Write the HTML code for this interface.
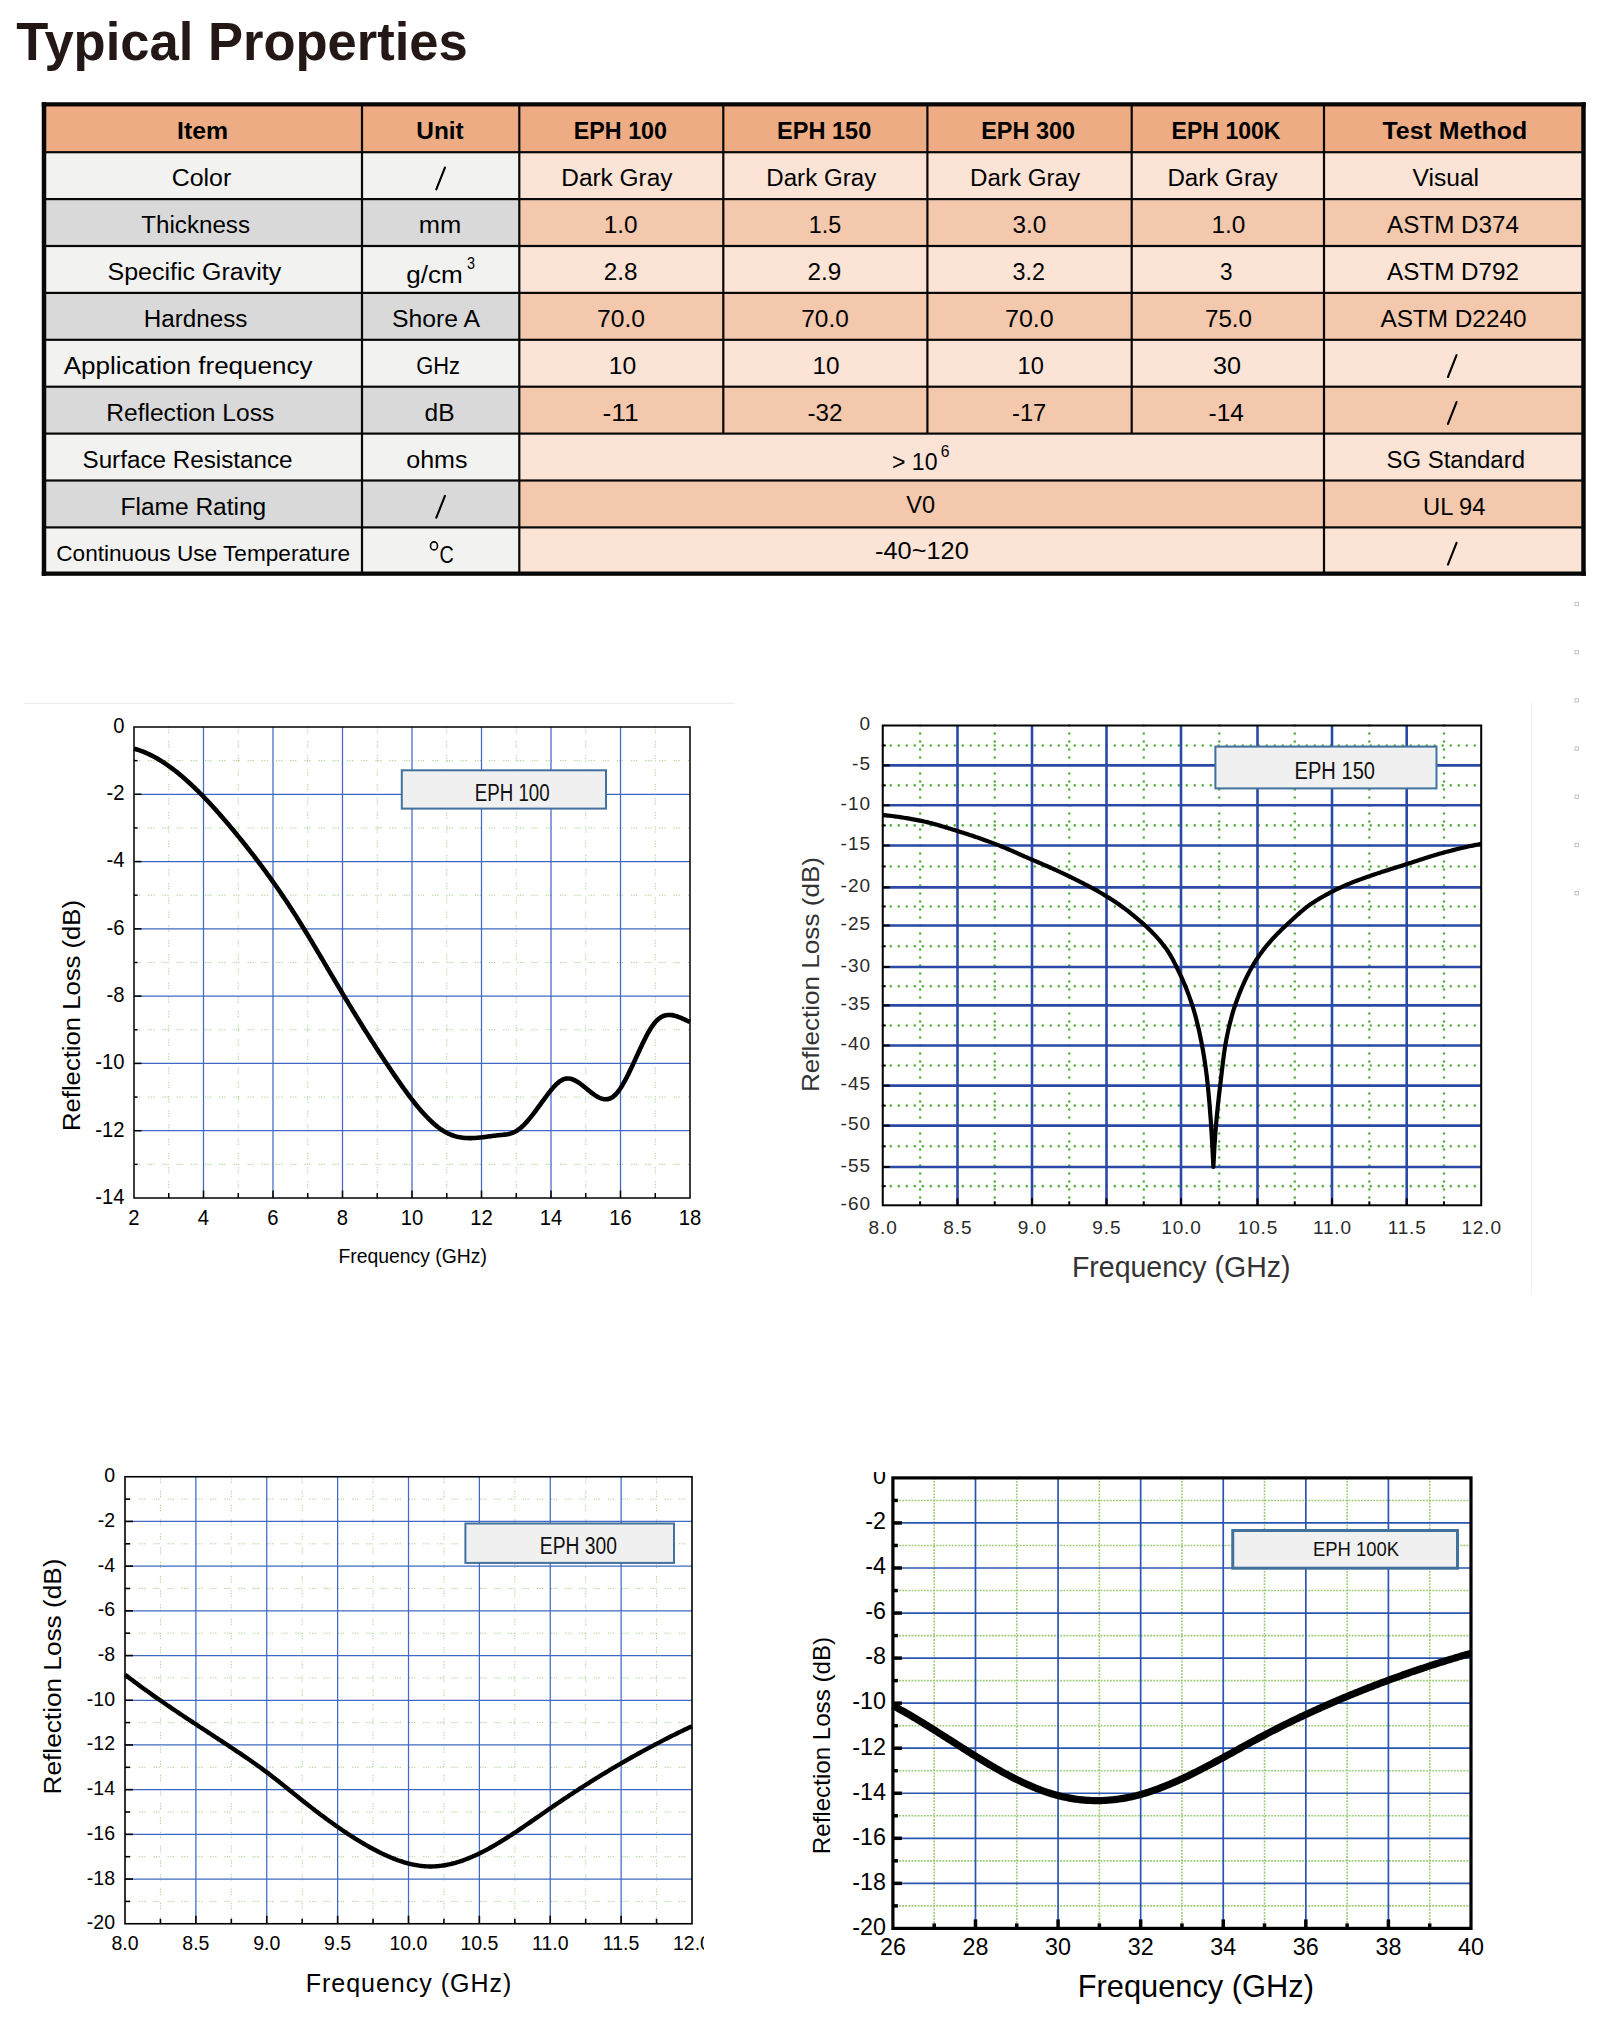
<!DOCTYPE html>
<html><head><meta charset="utf-8"><title>Typical Properties</title><style>html,body{margin:0;padding:0;background:#fff;font-family:"Liberation Sans",sans-serif;}svg{display:block;}</style></head><body>
<svg width="1600" height="2043" viewBox="0 0 1600 2043" style="font-family:&quot;Liberation Sans&quot;,sans-serif">
<rect x="0" y="0" width="1600" height="2043" fill="#fff"/>
<text x="16.20" y="60.00" font-size="54.50" font-weight="bold" fill="#231815" textLength="451.59" lengthAdjust="spacingAndGlyphs">Typical Properties</text>
<rect x="44" y="104.25" width="1539.5" height="47.94999999999999" fill="#EDAC84"/>
<rect x="44" y="152.20" width="475.30" height="46.90" fill="#F2F2F1"/>
<rect x="519.3" y="152.20" width="1064.20" height="46.90" fill="#FBE3D5"/>
<rect x="44" y="199.10" width="475.30" height="46.90" fill="#D9D9D9"/>
<rect x="519.3" y="199.10" width="1064.20" height="46.90" fill="#F3C8AD"/>
<rect x="44" y="246.00" width="475.30" height="46.90" fill="#F2F2F1"/>
<rect x="519.3" y="246.00" width="1064.20" height="46.90" fill="#FBE3D5"/>
<rect x="44" y="292.90" width="475.30" height="46.90" fill="#D9D9D9"/>
<rect x="519.3" y="292.90" width="1064.20" height="46.90" fill="#F3C8AD"/>
<rect x="44" y="339.80" width="475.30" height="46.90" fill="#F2F2F1"/>
<rect x="519.3" y="339.80" width="1064.20" height="46.90" fill="#FBE3D5"/>
<rect x="44" y="386.70" width="475.30" height="46.90" fill="#D9D9D9"/>
<rect x="519.3" y="386.70" width="1064.20" height="46.90" fill="#F3C8AD"/>
<rect x="44" y="433.60" width="475.30" height="46.90" fill="#F2F2F1"/>
<rect x="519.3" y="433.60" width="1064.20" height="46.90" fill="#FBE3D5"/>
<rect x="44" y="480.50" width="475.30" height="46.90" fill="#D9D9D9"/>
<rect x="519.3" y="480.50" width="1064.20" height="46.90" fill="#F3C8AD"/>
<rect x="44" y="527.40" width="475.30" height="46.20" fill="#F2F2F1"/>
<rect x="519.3" y="527.40" width="1064.20" height="46.20" fill="#FBE3D5"/>
<rect x="44" y="151.10" width="1539.5" height="2.2" fill="#080808"/>
<rect x="44" y="198.00" width="1539.5" height="2.2" fill="#080808"/>
<rect x="44" y="244.90" width="1539.5" height="2.2" fill="#080808"/>
<rect x="44" y="291.80" width="1539.5" height="2.2" fill="#080808"/>
<rect x="44" y="338.70" width="1539.5" height="2.2" fill="#080808"/>
<rect x="44" y="385.60" width="1539.5" height="2.2" fill="#080808"/>
<rect x="44" y="432.50" width="1539.5" height="2.2" fill="#080808"/>
<rect x="44" y="479.40" width="1539.5" height="2.2" fill="#080808"/>
<rect x="44" y="526.30" width="1539.5" height="2.2" fill="#080808"/>
<rect x="360.90" y="104.25" width="2.2" height="469.35" fill="#080808"/>
<rect x="518.20" y="104.25" width="2.2" height="469.35" fill="#080808"/>
<rect x="1322.90" y="104.25" width="2.2" height="469.35" fill="#080808"/>
<rect x="722.20" y="104.25" width="2.2" height="329.35" fill="#080808"/>
<rect x="926.30" y="104.25" width="2.2" height="329.35" fill="#080808"/>
<rect x="1130.60" y="104.25" width="2.2" height="329.35" fill="#080808"/>
<rect x="41.75" y="102.25" width="1544.0" height="4.2" fill="#080808"/>
<rect x="41.75" y="571.5" width="1544.0" height="4.3" fill="#080808"/>
<rect x="41.75" y="102.25" width="4.5" height="473.54999999999995" fill="#080808"/>
<rect x="1581.25" y="102.25" width="4.5" height="473.54999999999995" fill="#080808"/>
<text x="177.00" y="139.30" font-size="24.70" font-weight="bold" fill="#000" textLength="51.00" lengthAdjust="spacingAndGlyphs">Item</text>
<text x="416.25" y="139.30" font-size="24.70" font-weight="bold" fill="#000" textLength="47.50" lengthAdjust="spacingAndGlyphs">Unit</text>
<text x="573.75" y="139.30" font-size="24.70" font-weight="bold" fill="#000" textLength="93.26" lengthAdjust="spacingAndGlyphs">EPH 100</text>
<text x="777.00" y="139.30" font-size="24.70" font-weight="bold" fill="#000" textLength="94.26" lengthAdjust="spacingAndGlyphs">EPH 150</text>
<text x="981.25" y="139.30" font-size="24.70" font-weight="bold" fill="#000" textLength="93.76" lengthAdjust="spacingAndGlyphs">EPH 300</text>
<text x="1171.60" y="139.30" font-size="24.70" font-weight="bold" fill="#000" textLength="108.89" lengthAdjust="spacingAndGlyphs">EPH 100K</text>
<text x="1382.50" y="139.30" font-size="24.70" font-weight="bold" fill="#000" textLength="144.59" lengthAdjust="spacingAndGlyphs">Test Method</text>
<text x="171.75" y="186.20" font-size="24.70" fill="#000" textLength="59.49" lengthAdjust="spacingAndGlyphs">Color</text>
<line x1="436.32" y1="189.40" x2="444.93" y2="167.60" stroke="#000" stroke-width="2.1" stroke-linecap="round"/>
<text x="561.25" y="186.20" font-size="24.70" fill="#000" textLength="111.25" lengthAdjust="spacingAndGlyphs">Dark Gray</text>
<text x="766.25" y="186.20" font-size="24.70" fill="#000" textLength="110.00" lengthAdjust="spacingAndGlyphs">Dark Gray</text>
<text x="970.00" y="186.20" font-size="24.70" fill="#000" textLength="110.00" lengthAdjust="spacingAndGlyphs">Dark Gray</text>
<text x="1167.40" y="186.20" font-size="24.70" fill="#000" textLength="110.10" lengthAdjust="spacingAndGlyphs">Dark Gray</text>
<text x="1412.50" y="186.20" font-size="24.70" fill="#000" textLength="66.59" lengthAdjust="spacingAndGlyphs">Visual</text>
<text x="141.25" y="233.10" font-size="24.70" fill="#000" textLength="108.76" lengthAdjust="spacingAndGlyphs">Thickness</text>
<text x="418.75" y="233.10" font-size="24.70" fill="#000" textLength="42.50" lengthAdjust="spacingAndGlyphs">mm</text>
<text x="603.75" y="233.10" font-size="24.70" fill="#000" textLength="33.75" lengthAdjust="spacingAndGlyphs">1.0</text>
<text x="808.75" y="233.10" font-size="24.70" fill="#000" textLength="32.50" lengthAdjust="spacingAndGlyphs">1.5</text>
<text x="1012.50" y="233.10" font-size="24.70" fill="#000" textLength="33.75" lengthAdjust="spacingAndGlyphs">3.0</text>
<text x="1211.50" y="233.10" font-size="24.70" fill="#000" textLength="33.90" lengthAdjust="spacingAndGlyphs">1.0</text>
<text x="1387.00" y="233.10" font-size="24.70" fill="#000" textLength="132.01" lengthAdjust="spacingAndGlyphs">ASTM D374</text>
<text x="107.50" y="280.00" font-size="24.70" fill="#000" textLength="173.76" lengthAdjust="spacingAndGlyphs">Specific Gravity</text>
<text x="406.25" y="282.75" font-size="24.70" fill="#000" textLength="56.50" lengthAdjust="spacingAndGlyphs">g/cm</text>
<text x="603.75" y="280.00" font-size="24.70" fill="#000" textLength="33.75" lengthAdjust="spacingAndGlyphs">2.8</text>
<text x="807.50" y="280.00" font-size="24.70" fill="#000" textLength="33.75" lengthAdjust="spacingAndGlyphs">2.9</text>
<text x="1012.50" y="280.00" font-size="24.70" fill="#000" textLength="32.50" lengthAdjust="spacingAndGlyphs">3.2</text>
<text x="1220.00" y="280.00" font-size="24.70" fill="#000" textLength="12.50" lengthAdjust="spacingAndGlyphs">3</text>
<text x="1387.00" y="280.00" font-size="24.70" fill="#000" textLength="132.01" lengthAdjust="spacingAndGlyphs">ASTM D792</text>
<text x="143.75" y="326.90" font-size="24.70" fill="#000" textLength="103.75" lengthAdjust="spacingAndGlyphs">Hardness</text>
<text x="392.00" y="326.90" font-size="24.70" fill="#000" textLength="88.00" lengthAdjust="spacingAndGlyphs">Shore A</text>
<text x="597.00" y="326.90" font-size="24.70" fill="#000" textLength="48.01" lengthAdjust="spacingAndGlyphs">70.0</text>
<text x="801.25" y="326.90" font-size="24.70" fill="#000" textLength="47.51" lengthAdjust="spacingAndGlyphs">70.0</text>
<text x="1005.00" y="326.90" font-size="24.70" fill="#000" textLength="48.76" lengthAdjust="spacingAndGlyphs">70.0</text>
<text x="1205.00" y="326.90" font-size="24.70" fill="#000" textLength="47.01" lengthAdjust="spacingAndGlyphs">75.0</text>
<text x="1380.40" y="326.90" font-size="24.70" fill="#000" textLength="146.11" lengthAdjust="spacingAndGlyphs">ASTM D2240</text>
<text x="63.75" y="373.80" font-size="24.70" fill="#000" textLength="248.74" lengthAdjust="spacingAndGlyphs">Application frequency</text>
<text x="416.25" y="373.80" font-size="24.70" fill="#000" textLength="43.75" lengthAdjust="spacingAndGlyphs">GHz</text>
<text x="608.75" y="373.80" font-size="24.70" fill="#000" textLength="27.51" lengthAdjust="spacingAndGlyphs">10</text>
<text x="812.50" y="373.80" font-size="24.70" fill="#000" textLength="27.01" lengthAdjust="spacingAndGlyphs">10</text>
<text x="1017.50" y="373.80" font-size="24.70" fill="#000" textLength="26.26" lengthAdjust="spacingAndGlyphs">10</text>
<text x="1213.00" y="373.80" font-size="24.70" fill="#000" textLength="28.01" lengthAdjust="spacingAndGlyphs">30</text>
<line x1="1447.95" y1="377.00" x2="1456.55" y2="355.20" stroke="#000" stroke-width="2.1" stroke-linecap="round"/>
<text x="106.25" y="420.70" font-size="24.70" fill="#000" textLength="168.00" lengthAdjust="spacingAndGlyphs">Reflection Loss</text>
<text x="424.50" y="420.70" font-size="24.70" fill="#000" textLength="30.00" lengthAdjust="spacingAndGlyphs">dB</text>
<text x="602.50" y="420.70" font-size="24.70" fill="#000" textLength="36.25" lengthAdjust="spacingAndGlyphs">-11</text>
<text x="807.50" y="420.70" font-size="24.70" fill="#000" textLength="35.01" lengthAdjust="spacingAndGlyphs">-32</text>
<text x="1012.00" y="420.70" font-size="24.70" fill="#000" textLength="34.26" lengthAdjust="spacingAndGlyphs">-17</text>
<text x="1208.50" y="420.70" font-size="24.70" fill="#000" textLength="35.41" lengthAdjust="spacingAndGlyphs">-14</text>
<line x1="1447.95" y1="423.90" x2="1456.55" y2="402.10" stroke="#000" stroke-width="2.1" stroke-linecap="round"/>
<text x="82.50" y="467.60" font-size="24.70" fill="#000" textLength="210.00" lengthAdjust="spacingAndGlyphs">Surface Resistance</text>
<text x="406.25" y="467.60" font-size="24.70" fill="#000" textLength="61.26" lengthAdjust="spacingAndGlyphs">ohms</text>
<text x="892.00" y="469.80" font-size="24.70" fill="#000" textLength="45.50" lengthAdjust="spacingAndGlyphs">&gt; 10</text>
<text x="1386.40" y="467.60" font-size="24.70" fill="#000" textLength="138.61" lengthAdjust="spacingAndGlyphs">SG Standard</text>
<text x="120.50" y="514.50" font-size="24.70" fill="#000" textLength="145.75" lengthAdjust="spacingAndGlyphs">Flame Rating</text>
<line x1="436.32" y1="517.70" x2="444.93" y2="495.90" stroke="#000" stroke-width="2.1" stroke-linecap="round"/>
<text x="906.25" y="513.00" font-size="24.70" fill="#000" textLength="28.75" lengthAdjust="spacingAndGlyphs">V0</text>
<text x="1423.00" y="514.50" font-size="24.70" fill="#000" textLength="62.41" lengthAdjust="spacingAndGlyphs">UL 94</text>
<text x="439.50" y="563.20" font-size="24.70" fill="#000" textLength="14.25" lengthAdjust="spacingAndGlyphs">C</text>
<text x="875.00" y="559.40" font-size="24.70" fill="#000" textLength="93.74" lengthAdjust="spacingAndGlyphs">-40~120</text>
<line x1="1447.95" y1="564.60" x2="1456.55" y2="542.80" stroke="#000" stroke-width="2.1" stroke-linecap="round"/>
<text x="467.00" y="268.50" font-size="17.00" fill="#000" textLength="8.00" lengthAdjust="spacingAndGlyphs">3</text>
<text x="940.75" y="456.75" font-size="17.00" fill="#000" textLength="8.75" lengthAdjust="spacingAndGlyphs">6</text>
<text x="56.25" y="561.00" font-size="22.50" fill="#000" textLength="293.75" lengthAdjust="spacingAndGlyphs">Continuous Use Temperature</text>
<ellipse cx="434" cy="545.9" rx="3.5" ry="4.0" fill="none" stroke="#000" stroke-width="1.6"/>
<line x1="168.75" y1="727.00" x2="168.75" y2="1198.00" stroke="#9CCB7E" stroke-width="1" stroke-dasharray="1.2 1.3 1.2 1.3 1.2 8" opacity="0.9"/>
<line x1="238.25" y1="727.00" x2="238.25" y2="1198.00" stroke="#9CCB7E" stroke-width="1" stroke-dasharray="1.2 1.3 1.2 1.3 1.2 8" opacity="0.9"/>
<line x1="307.75" y1="727.00" x2="307.75" y2="1198.00" stroke="#9CCB7E" stroke-width="1" stroke-dasharray="1.2 1.3 1.2 1.3 1.2 8" opacity="0.9"/>
<line x1="377.25" y1="727.00" x2="377.25" y2="1198.00" stroke="#9CCB7E" stroke-width="1" stroke-dasharray="1.2 1.3 1.2 1.3 1.2 8" opacity="0.9"/>
<line x1="446.75" y1="727.00" x2="446.75" y2="1198.00" stroke="#9CCB7E" stroke-width="1" stroke-dasharray="1.2 1.3 1.2 1.3 1.2 8" opacity="0.9"/>
<line x1="516.25" y1="727.00" x2="516.25" y2="1198.00" stroke="#9CCB7E" stroke-width="1" stroke-dasharray="1.2 1.3 1.2 1.3 1.2 8" opacity="0.9"/>
<line x1="585.75" y1="727.00" x2="585.75" y2="1198.00" stroke="#9CCB7E" stroke-width="1" stroke-dasharray="1.2 1.3 1.2 1.3 1.2 8" opacity="0.9"/>
<line x1="655.25" y1="727.00" x2="655.25" y2="1198.00" stroke="#9CCB7E" stroke-width="1" stroke-dasharray="1.2 1.3 1.2 1.3 1.2 8" opacity="0.9"/>
<line x1="134.00" y1="760.64" x2="690.00" y2="760.64" stroke="#9CCB7E" stroke-width="1" stroke-dasharray="1.2 1.3 1.2 1.3 1.2 8" opacity="0.9"/>
<line x1="134.00" y1="827.93" x2="690.00" y2="827.93" stroke="#9CCB7E" stroke-width="1" stroke-dasharray="1.2 1.3 1.2 1.3 1.2 8" opacity="0.9"/>
<line x1="134.00" y1="895.21" x2="690.00" y2="895.21" stroke="#9CCB7E" stroke-width="1" stroke-dasharray="1.2 1.3 1.2 1.3 1.2 8" opacity="0.9"/>
<line x1="134.00" y1="962.50" x2="690.00" y2="962.50" stroke="#9CCB7E" stroke-width="1" stroke-dasharray="1.2 1.3 1.2 1.3 1.2 8" opacity="0.9"/>
<line x1="134.00" y1="1029.79" x2="690.00" y2="1029.79" stroke="#9CCB7E" stroke-width="1" stroke-dasharray="1.2 1.3 1.2 1.3 1.2 8" opacity="0.9"/>
<line x1="134.00" y1="1097.07" x2="690.00" y2="1097.07" stroke="#9CCB7E" stroke-width="1" stroke-dasharray="1.2 1.3 1.2 1.3 1.2 8" opacity="0.9"/>
<line x1="134.00" y1="1164.36" x2="690.00" y2="1164.36" stroke="#9CCB7E" stroke-width="1" stroke-dasharray="1.2 1.3 1.2 1.3 1.2 8" opacity="0.9"/>
<line x1="203.50" y1="727.00" x2="203.50" y2="1198.00" stroke="#4068C4" stroke-width="1.25"/>
<line x1="273.00" y1="727.00" x2="273.00" y2="1198.00" stroke="#4068C4" stroke-width="1.25"/>
<line x1="342.50" y1="727.00" x2="342.50" y2="1198.00" stroke="#4068C4" stroke-width="1.25"/>
<line x1="412.00" y1="727.00" x2="412.00" y2="1198.00" stroke="#4068C4" stroke-width="1.25"/>
<line x1="481.50" y1="727.00" x2="481.50" y2="1198.00" stroke="#4068C4" stroke-width="1.25"/>
<line x1="551.00" y1="727.00" x2="551.00" y2="1198.00" stroke="#4068C4" stroke-width="1.25"/>
<line x1="620.50" y1="727.00" x2="620.50" y2="1198.00" stroke="#4068C4" stroke-width="1.25"/>
<line x1="134.00" y1="794.29" x2="690.00" y2="794.29" stroke="#4068C4" stroke-width="1.25"/>
<line x1="134.00" y1="861.57" x2="690.00" y2="861.57" stroke="#4068C4" stroke-width="1.25"/>
<line x1="134.00" y1="928.86" x2="690.00" y2="928.86" stroke="#4068C4" stroke-width="1.25"/>
<line x1="134.00" y1="996.14" x2="690.00" y2="996.14" stroke="#4068C4" stroke-width="1.25"/>
<line x1="134.00" y1="1063.43" x2="690.00" y2="1063.43" stroke="#4068C4" stroke-width="1.25"/>
<line x1="134.00" y1="1130.71" x2="690.00" y2="1130.71" stroke="#4068C4" stroke-width="1.25"/>
<rect x="401.80" y="770.30" width="204.20" height="38.30" fill="#F0F0F0" stroke="#41719C" stroke-width="2"/>
<text x="474.80" y="801.00" font-size="23.30" fill="#111" textLength="74.81" lengthAdjust="spacingAndGlyphs">EPH 100</text>
<path d="M134.00,748.65 L135.39,749.04 L136.79,749.45 L138.18,749.89 L139.57,750.36 L140.97,750.86 L142.36,751.38 L143.75,751.93 L145.15,752.50 L146.54,753.11 L147.93,753.74 L149.33,754.39 L150.72,755.07 L152.12,755.77 L153.51,756.50 L154.90,757.26 L156.30,758.03 L157.69,758.84 L159.08,759.66 L160.48,760.51 L161.87,761.38 L163.26,762.28 L164.66,763.19 L166.05,764.13 L167.44,765.09 L168.84,766.08 L170.23,767.08 L171.62,768.11 L173.02,769.15 L174.41,770.22 L175.80,771.31 L177.20,772.41 L178.59,773.54 L179.98,774.69 L181.38,775.85 L182.77,777.04 L184.17,778.24 L185.56,779.46 L186.95,780.70 L188.35,781.96 L189.74,783.23 L191.13,784.52 L192.53,785.83 L193.92,787.15 L195.31,788.50 L196.71,789.85 L198.10,791.23 L199.49,792.61 L200.89,794.02 L202.28,795.44 L203.67,796.87 L205.07,798.32 L206.46,799.78 L207.85,801.25 L209.25,802.74 L210.64,804.24 L212.04,805.76 L213.43,807.29 L214.82,808.83 L216.22,810.38 L217.61,811.94 L219.00,813.52 L220.40,815.10 L221.79,816.70 L223.18,818.31 L224.58,819.93 L225.97,821.56 L227.36,823.20 L228.76,824.84 L230.15,826.50 L231.54,828.17 L232.94,829.84 L234.33,831.53 L235.72,833.22 L237.12,834.92 L238.51,836.62 L239.90,838.34 L241.30,840.06 L242.69,841.79 L244.09,843.53 L245.48,845.28 L246.87,847.03 L248.27,848.79 L249.66,850.57 L251.05,852.35 L252.45,854.14 L253.84,855.94 L255.23,857.75 L256.63,859.57 L258.02,861.40 L259.41,863.25 L260.81,865.10 L262.20,866.96 L263.59,868.84 L264.99,870.72 L266.38,872.62 L267.77,874.53 L269.17,876.45 L270.56,878.39 L271.95,880.33 L273.35,882.29 L274.74,884.27 L276.14,886.25 L277.53,888.25 L278.92,890.26 L280.32,892.29 L281.71,894.33 L283.10,896.39 L284.50,898.46 L285.89,900.54 L287.28,902.64 L288.68,904.76 L290.07,906.89 L291.46,909.03 L292.86,911.20 L294.25,913.37 L295.64,915.56 L297.04,917.77 L298.43,919.98 L299.82,922.21 L301.22,924.45 L302.61,926.71 L304.01,928.97 L305.40,931.24 L306.79,933.53 L308.19,935.82 L309.58,938.12 L310.97,940.43 L312.37,942.74 L313.76,945.06 L315.15,947.39 L316.55,949.72 L317.94,952.06 L319.33,954.40 L320.73,956.75 L322.12,959.10 L323.51,961.45 L324.91,963.81 L326.30,966.16 L327.69,968.52 L329.09,970.87 L330.48,973.23 L331.87,975.59 L333.27,977.94 L334.66,980.29 L336.06,982.64 L337.45,984.99 L338.84,987.33 L340.24,989.67 L341.63,992.00 L343.02,994.33 L344.42,996.65 L345.81,998.96 L347.20,1001.27 L348.60,1003.58 L349.99,1005.87 L351.38,1008.16 L352.78,1010.45 L354.17,1012.72 L355.56,1014.99 L356.96,1017.26 L358.35,1019.51 L359.74,1021.76 L361.14,1024.00 L362.53,1026.24 L363.92,1028.46 L365.32,1030.68 L366.71,1032.90 L368.11,1035.10 L369.50,1037.30 L370.89,1039.49 L372.29,1041.67 L373.68,1043.84 L375.07,1046.00 L376.47,1048.16 L377.86,1050.30 L379.25,1052.44 L380.65,1054.57 L382.04,1056.69 L383.43,1058.80 L384.83,1060.91 L386.22,1063.00 L387.61,1065.09 L389.01,1067.16 L390.40,1069.23 L391.79,1071.28 L393.19,1073.33 L394.58,1075.36 L395.97,1077.39 L397.37,1079.41 L398.76,1081.41 L400.16,1083.40 L401.55,1085.37 L402.94,1087.33 L404.34,1089.27 L405.73,1091.19 L407.12,1093.09 L408.52,1094.96 L409.91,1096.82 L411.30,1098.65 L412.70,1100.45 L414.09,1102.23 L415.48,1103.97 L416.88,1105.69 L418.27,1107.38 L419.66,1109.03 L421.06,1110.65 L422.45,1112.24 L423.84,1113.79 L425.24,1115.30 L426.63,1116.77 L428.03,1118.20 L429.42,1119.59 L430.81,1120.93 L432.21,1122.23 L433.60,1123.49 L434.99,1124.70 L436.39,1125.85 L437.78,1126.96 L439.17,1128.02 L440.57,1129.03 L441.96,1129.98 L443.35,1130.87 L444.75,1131.71 L446.14,1132.49 L447.53,1133.21 L448.93,1133.88 L450.32,1134.48 L451.71,1135.04 L453.11,1135.53 L454.50,1135.98 L455.89,1136.38 L457.29,1136.73 L458.68,1137.04 L460.08,1137.30 L461.47,1137.53 L462.86,1137.71 L464.26,1137.86 L465.65,1137.97 L467.04,1138.05 L468.44,1138.09 L469.83,1138.11 L471.22,1138.10 L472.62,1138.07 L474.01,1138.01 L475.40,1137.93 L476.80,1137.83 L478.19,1137.71 L479.58,1137.58 L480.98,1137.43 L482.37,1137.28 L483.76,1137.11 L485.16,1136.93 L486.55,1136.75 L487.94,1136.57 L489.34,1136.38 L490.73,1136.20 L492.13,1136.01 L493.52,1135.83 L494.91,1135.66 L496.31,1135.50 L497.70,1135.34 L499.09,1135.20 L500.49,1135.06 L501.88,1134.93 L503.27,1134.79 L504.67,1134.63 L506.06,1134.44 L507.45,1134.20 L508.85,1133.91 L510.24,1133.55 L511.63,1133.12 L513.03,1132.61 L514.42,1131.99 L515.81,1131.27 L517.21,1130.43 L518.60,1129.47 L519.99,1128.40 L521.39,1127.23 L522.78,1125.95 L524.18,1124.59 L525.57,1123.14 L526.96,1121.62 L528.36,1120.03 L529.75,1118.37 L531.14,1116.65 L532.54,1114.89 L533.93,1113.08 L535.32,1111.24 L536.72,1109.36 L538.11,1107.47 L539.50,1105.55 L540.90,1103.63 L542.29,1101.71 L543.68,1099.79 L545.08,1097.88 L546.47,1095.99 L547.86,1094.14 L549.26,1092.33 L550.65,1090.58 L552.05,1088.91 L553.44,1087.31 L554.83,1085.81 L556.23,1084.41 L557.62,1083.13 L559.01,1081.98 L560.41,1080.98 L561.80,1080.12 L563.19,1079.44 L564.59,1078.93 L565.98,1078.61 L567.37,1078.47 L568.77,1078.51 L570.16,1078.70 L571.55,1079.05 L572.95,1079.52 L574.34,1080.12 L575.73,1080.83 L577.13,1081.63 L578.52,1082.52 L579.91,1083.48 L581.31,1084.51 L582.70,1085.58 L584.10,1086.69 L585.49,1087.82 L586.88,1088.96 L588.28,1090.11 L589.67,1091.24 L591.06,1092.34 L592.46,1093.41 L593.85,1094.42 L595.24,1095.38 L596.64,1096.26 L598.03,1097.05 L599.42,1097.75 L600.82,1098.33 L602.21,1098.79 L603.60,1099.11 L605.00,1099.29 L606.39,1099.30 L607.78,1099.15 L609.18,1098.80 L610.57,1098.26 L611.96,1097.51 L613.36,1096.54 L614.75,1095.34 L616.15,1093.91 L617.54,1092.28 L618.93,1090.45 L620.33,1088.44 L621.72,1086.26 L623.11,1083.93 L624.51,1081.47 L625.90,1078.88 L627.29,1076.19 L628.69,1073.40 L630.08,1070.53 L631.47,1067.59 L632.87,1064.61 L634.26,1061.59 L635.65,1058.54 L637.05,1055.50 L638.44,1052.45 L639.83,1049.44 L641.23,1046.46 L642.62,1043.54 L644.02,1040.69 L645.41,1037.92 L646.80,1035.26 L648.20,1032.71 L649.59,1030.30 L650.98,1028.03 L652.38,1025.93 L653.77,1024.01 L655.16,1022.28 L656.56,1020.76 L657.95,1019.43 L659.34,1018.30 L660.74,1017.35 L662.13,1016.58 L663.52,1015.96 L664.92,1015.50 L666.31,1015.18 L667.70,1014.99 L669.10,1014.93 L670.49,1014.97 L671.88,1015.12 L673.28,1015.37 L674.67,1015.69 L676.07,1016.09 L677.46,1016.55 L678.85,1017.07 L680.25,1017.63 L681.64,1018.22 L683.03,1018.84 L684.43,1019.47 L685.82,1020.10 L687.21,1020.73 L688.61,1021.35 L690.00,1021.94" fill="none" stroke="#000" stroke-width="4.6" stroke-linejoin="round" stroke-linecap="butt"/>
<line x1="134.00" y1="794.29" x2="141.50" y2="794.29" stroke="#000" stroke-width="1.5"/>
<line x1="134.00" y1="861.57" x2="141.50" y2="861.57" stroke="#000" stroke-width="1.5"/>
<line x1="134.00" y1="928.86" x2="141.50" y2="928.86" stroke="#000" stroke-width="1.5"/>
<line x1="134.00" y1="996.14" x2="141.50" y2="996.14" stroke="#000" stroke-width="1.5"/>
<line x1="134.00" y1="1063.43" x2="141.50" y2="1063.43" stroke="#000" stroke-width="1.5"/>
<line x1="134.00" y1="1130.71" x2="141.50" y2="1130.71" stroke="#000" stroke-width="1.5"/>
<line x1="134.00" y1="760.64" x2="137.50" y2="760.64" stroke="#000" stroke-width="1.5"/>
<line x1="134.00" y1="827.93" x2="137.50" y2="827.93" stroke="#000" stroke-width="1.5"/>
<line x1="134.00" y1="895.21" x2="137.50" y2="895.21" stroke="#000" stroke-width="1.5"/>
<line x1="134.00" y1="962.50" x2="137.50" y2="962.50" stroke="#000" stroke-width="1.5"/>
<line x1="134.00" y1="1029.79" x2="137.50" y2="1029.79" stroke="#000" stroke-width="1.5"/>
<line x1="134.00" y1="1097.07" x2="137.50" y2="1097.07" stroke="#000" stroke-width="1.5"/>
<line x1="134.00" y1="1164.36" x2="137.50" y2="1164.36" stroke="#000" stroke-width="1.5"/>
<line x1="203.50" y1="1198.00" x2="203.50" y2="1190.50" stroke="#000" stroke-width="1.5"/>
<line x1="273.00" y1="1198.00" x2="273.00" y2="1190.50" stroke="#000" stroke-width="1.5"/>
<line x1="342.50" y1="1198.00" x2="342.50" y2="1190.50" stroke="#000" stroke-width="1.5"/>
<line x1="412.00" y1="1198.00" x2="412.00" y2="1190.50" stroke="#000" stroke-width="1.5"/>
<line x1="481.50" y1="1198.00" x2="481.50" y2="1190.50" stroke="#000" stroke-width="1.5"/>
<line x1="551.00" y1="1198.00" x2="551.00" y2="1190.50" stroke="#000" stroke-width="1.5"/>
<line x1="620.50" y1="1198.00" x2="620.50" y2="1190.50" stroke="#000" stroke-width="1.5"/>
<line x1="168.75" y1="1198.00" x2="168.75" y2="1193.00" stroke="#000" stroke-width="1.5"/>
<line x1="238.25" y1="1198.00" x2="238.25" y2="1193.00" stroke="#000" stroke-width="1.5"/>
<line x1="307.75" y1="1198.00" x2="307.75" y2="1193.00" stroke="#000" stroke-width="1.5"/>
<line x1="377.25" y1="1198.00" x2="377.25" y2="1193.00" stroke="#000" stroke-width="1.5"/>
<line x1="446.75" y1="1198.00" x2="446.75" y2="1193.00" stroke="#000" stroke-width="1.5"/>
<line x1="516.25" y1="1198.00" x2="516.25" y2="1193.00" stroke="#000" stroke-width="1.5"/>
<line x1="585.75" y1="1198.00" x2="585.75" y2="1193.00" stroke="#000" stroke-width="1.5"/>
<line x1="655.25" y1="1198.00" x2="655.25" y2="1193.00" stroke="#000" stroke-width="1.5"/>
<rect x="134.00" y="727.00" width="556.00" height="471.00" fill="none" stroke="#000" stroke-width="1.5"/>
<text x="124.50" y="732.88" font-size="22.00" fill="#000" text-anchor="end" textLength="11.26" lengthAdjust="spacingAndGlyphs">0</text>
<text x="124.50" y="800.16" font-size="22.00" fill="#000" text-anchor="end" textLength="18.00" lengthAdjust="spacingAndGlyphs">-2</text>
<text x="124.50" y="867.45" font-size="22.00" fill="#000" text-anchor="end" textLength="18.00" lengthAdjust="spacingAndGlyphs">-4</text>
<text x="124.50" y="934.73" font-size="22.00" fill="#000" text-anchor="end" textLength="18.00" lengthAdjust="spacingAndGlyphs">-6</text>
<text x="124.50" y="1002.02" font-size="22.00" fill="#000" text-anchor="end" textLength="18.00" lengthAdjust="spacingAndGlyphs">-8</text>
<text x="124.50" y="1069.30" font-size="22.00" fill="#000" text-anchor="end" textLength="29.25" lengthAdjust="spacingAndGlyphs">-10</text>
<text x="124.50" y="1136.59" font-size="22.00" fill="#000" text-anchor="end" textLength="29.25" lengthAdjust="spacingAndGlyphs">-12</text>
<text x="124.50" y="1203.88" font-size="22.00" fill="#000" text-anchor="end" textLength="29.25" lengthAdjust="spacingAndGlyphs">-14</text>
<text x="134.00" y="1225.00" font-size="22.00" fill="#000" text-anchor="middle" textLength="11.26" lengthAdjust="spacingAndGlyphs">2</text>
<text x="203.50" y="1225.00" font-size="22.00" fill="#000" text-anchor="middle" textLength="11.26" lengthAdjust="spacingAndGlyphs">4</text>
<text x="273.00" y="1225.00" font-size="22.00" fill="#000" text-anchor="middle" textLength="11.26" lengthAdjust="spacingAndGlyphs">6</text>
<text x="342.50" y="1225.00" font-size="22.00" fill="#000" text-anchor="middle" textLength="11.26" lengthAdjust="spacingAndGlyphs">8</text>
<text x="412.00" y="1225.00" font-size="22.00" fill="#000" text-anchor="middle" textLength="22.51" lengthAdjust="spacingAndGlyphs">10</text>
<text x="481.50" y="1225.00" font-size="22.00" fill="#000" text-anchor="middle" textLength="22.51" lengthAdjust="spacingAndGlyphs">12</text>
<text x="551.00" y="1225.00" font-size="22.00" fill="#000" text-anchor="middle" textLength="22.51" lengthAdjust="spacingAndGlyphs">14</text>
<text x="620.50" y="1225.00" font-size="22.00" fill="#000" text-anchor="middle" textLength="22.51" lengthAdjust="spacingAndGlyphs">16</text>
<text x="690.00" y="1225.00" font-size="22.00" fill="#000" text-anchor="middle" textLength="22.51" lengthAdjust="spacingAndGlyphs">18</text>
<text x="338.50" y="1262.50" font-size="20.20" fill="#000" textLength="148.39" lengthAdjust="spacingAndGlyphs">Frequency (GHz)</text>
<text x="80.40" y="1131.00" font-size="23.00" fill="#000" textLength="231.00" lengthAdjust="spacingAndGlyphs" transform="rotate(-90 80.40 1131.00)">Reflection Loss (dB)</text>
<line x1="920.12" y1="725.50" x2="920.12" y2="1205.30" stroke="#55B040" stroke-width="2.6" stroke-dasharray="0 8" stroke-linecap="round"/>
<line x1="994.75" y1="725.50" x2="994.75" y2="1205.30" stroke="#55B040" stroke-width="2.6" stroke-dasharray="0 8" stroke-linecap="round"/>
<line x1="1069.25" y1="725.50" x2="1069.25" y2="1205.30" stroke="#55B040" stroke-width="2.6" stroke-dasharray="0 8" stroke-linecap="round"/>
<line x1="1143.75" y1="725.50" x2="1143.75" y2="1205.30" stroke="#55B040" stroke-width="2.6" stroke-dasharray="0 8" stroke-linecap="round"/>
<line x1="1219.25" y1="725.50" x2="1219.25" y2="1205.30" stroke="#55B040" stroke-width="2.6" stroke-dasharray="0 8" stroke-linecap="round"/>
<line x1="1294.75" y1="725.50" x2="1294.75" y2="1205.30" stroke="#55B040" stroke-width="2.6" stroke-dasharray="0 8" stroke-linecap="round"/>
<line x1="1369.35" y1="725.50" x2="1369.35" y2="1205.30" stroke="#55B040" stroke-width="2.6" stroke-dasharray="0 8" stroke-linecap="round"/>
<line x1="1443.95" y1="725.50" x2="1443.95" y2="1205.30" stroke="#55B040" stroke-width="2.6" stroke-dasharray="0 8" stroke-linecap="round"/>
<line x1="882.75" y1="745.45" x2="1481.20" y2="745.45" stroke="#55B040" stroke-width="2.6" stroke-dasharray="0 8" stroke-linecap="round"/>
<line x1="882.75" y1="785.35" x2="1481.20" y2="785.35" stroke="#55B040" stroke-width="2.6" stroke-dasharray="0 8" stroke-linecap="round"/>
<line x1="882.75" y1="825.40" x2="1481.20" y2="825.40" stroke="#55B040" stroke-width="2.6" stroke-dasharray="0 8" stroke-linecap="round"/>
<line x1="882.75" y1="866.45" x2="1481.20" y2="866.45" stroke="#55B040" stroke-width="2.6" stroke-dasharray="0 8" stroke-linecap="round"/>
<line x1="882.75" y1="906.45" x2="1481.20" y2="906.45" stroke="#55B040" stroke-width="2.6" stroke-dasharray="0 8" stroke-linecap="round"/>
<line x1="882.75" y1="946.25" x2="1481.20" y2="946.25" stroke="#55B040" stroke-width="2.6" stroke-dasharray="0 8" stroke-linecap="round"/>
<line x1="882.75" y1="986.20" x2="1481.20" y2="986.20" stroke="#55B040" stroke-width="2.6" stroke-dasharray="0 8" stroke-linecap="round"/>
<line x1="882.75" y1="1025.45" x2="1481.20" y2="1025.45" stroke="#55B040" stroke-width="2.6" stroke-dasharray="0 8" stroke-linecap="round"/>
<line x1="882.75" y1="1065.55" x2="1481.20" y2="1065.55" stroke="#55B040" stroke-width="2.6" stroke-dasharray="0 8" stroke-linecap="round"/>
<line x1="882.75" y1="1105.60" x2="1481.20" y2="1105.60" stroke="#55B040" stroke-width="2.6" stroke-dasharray="0 8" stroke-linecap="round"/>
<line x1="882.75" y1="1146.30" x2="1481.20" y2="1146.30" stroke="#55B040" stroke-width="2.6" stroke-dasharray="0 8" stroke-linecap="round"/>
<line x1="882.75" y1="1186.15" x2="1481.20" y2="1186.15" stroke="#55B040" stroke-width="2.6" stroke-dasharray="0 8" stroke-linecap="round"/>
<line x1="957.50" y1="725.50" x2="957.50" y2="1205.30" stroke="#2B4AA6" stroke-width="2.6"/>
<line x1="1032.00" y1="725.50" x2="1032.00" y2="1205.30" stroke="#2B4AA6" stroke-width="2.6"/>
<line x1="1106.50" y1="725.50" x2="1106.50" y2="1205.30" stroke="#2B4AA6" stroke-width="2.6"/>
<line x1="1181.00" y1="725.50" x2="1181.00" y2="1205.30" stroke="#2B4AA6" stroke-width="2.6"/>
<line x1="1257.50" y1="725.50" x2="1257.50" y2="1205.30" stroke="#2B4AA6" stroke-width="2.6"/>
<line x1="1332.00" y1="725.50" x2="1332.00" y2="1205.30" stroke="#2B4AA6" stroke-width="2.6"/>
<line x1="1406.70" y1="725.50" x2="1406.70" y2="1205.30" stroke="#2B4AA6" stroke-width="2.6"/>
<line x1="882.75" y1="765.40" x2="1481.20" y2="765.40" stroke="#2B4AA6" stroke-width="2.6"/>
<line x1="882.75" y1="805.30" x2="1481.20" y2="805.30" stroke="#2B4AA6" stroke-width="2.6"/>
<line x1="882.75" y1="845.50" x2="1481.20" y2="845.50" stroke="#2B4AA6" stroke-width="2.6"/>
<line x1="882.75" y1="887.40" x2="1481.20" y2="887.40" stroke="#2B4AA6" stroke-width="2.6"/>
<line x1="882.75" y1="925.50" x2="1481.20" y2="925.50" stroke="#2B4AA6" stroke-width="2.6"/>
<line x1="882.75" y1="967.00" x2="1481.20" y2="967.00" stroke="#2B4AA6" stroke-width="2.6"/>
<line x1="882.75" y1="1005.40" x2="1481.20" y2="1005.40" stroke="#2B4AA6" stroke-width="2.6"/>
<line x1="882.75" y1="1045.50" x2="1481.20" y2="1045.50" stroke="#2B4AA6" stroke-width="2.6"/>
<line x1="882.75" y1="1085.60" x2="1481.20" y2="1085.60" stroke="#2B4AA6" stroke-width="2.6"/>
<line x1="882.75" y1="1125.60" x2="1481.20" y2="1125.60" stroke="#2B4AA6" stroke-width="2.6"/>
<line x1="882.75" y1="1167.00" x2="1481.20" y2="1167.00" stroke="#2B4AA6" stroke-width="2.6"/>
<rect x="1215.40" y="746.60" width="221.10" height="41.80" fill="#F0F0F0" stroke="#41719C" stroke-width="2"/>
<text x="1294.50" y="779.00" font-size="23.30" fill="#111" textLength="80.51" lengthAdjust="spacingAndGlyphs">EPH 150</text>
<path d="M882.75,815.06 L884.08,815.18 L885.41,815.31 L886.73,815.44 L888.06,815.58 L889.39,815.72 L890.72,815.88 L892.05,816.04 L893.37,816.21 L894.70,816.38 L896.03,816.56 L897.36,816.74 L898.68,816.94 L900.01,817.13 L901.34,817.33 L902.67,817.54 L904.00,817.75 L905.32,817.97 L906.65,818.19 L907.98,818.42 L909.31,818.65 L910.64,818.88 L911.96,819.12 L913.29,819.36 L914.62,819.61 L915.95,819.86 L917.28,820.11 L918.60,820.36 L919.93,820.62 L921.26,820.88 L922.59,821.16 L923.91,821.44 L925.24,821.74 L926.57,822.05 L927.90,822.37 L929.23,822.70 L930.55,823.04 L931.88,823.39 L933.21,823.74 L934.54,824.11 L935.87,824.48 L937.19,824.85 L938.52,825.24 L939.85,825.63 L941.18,826.02 L942.50,826.42 L943.83,826.82 L945.16,827.22 L946.49,827.63 L947.82,828.04 L949.14,828.45 L950.47,828.86 L951.80,829.28 L953.13,829.69 L954.46,830.10 L955.78,830.51 L957.11,830.92 L958.44,831.33 L959.77,831.74 L961.10,832.15 L962.42,832.57 L963.75,832.99 L965.08,833.41 L966.41,833.84 L967.73,834.27 L969.06,834.70 L970.39,835.14 L971.72,835.58 L973.05,836.02 L974.37,836.47 L975.70,836.92 L977.03,837.37 L978.36,837.83 L979.69,838.29 L981.01,838.76 L982.34,839.22 L983.67,839.70 L985.00,840.17 L986.33,840.65 L987.65,841.13 L988.98,841.62 L990.31,842.11 L991.64,842.60 L992.96,843.10 L994.29,843.60 L995.62,844.10 L996.95,844.62 L998.28,845.14 L999.60,845.67 L1000.93,846.20 L1002.26,846.75 L1003.59,847.30 L1004.92,847.85 L1006.24,848.41 L1007.57,848.98 L1008.90,849.55 L1010.23,850.12 L1011.55,850.70 L1012.88,851.28 L1014.21,851.86 L1015.54,852.44 L1016.87,853.03 L1018.19,853.62 L1019.52,854.21 L1020.85,854.80 L1022.18,855.39 L1023.51,855.97 L1024.83,856.56 L1026.16,857.15 L1027.49,857.73 L1028.82,858.31 L1030.15,858.89 L1031.47,859.46 L1032.80,860.03 L1034.13,860.60 L1035.46,861.17 L1036.78,861.73 L1038.11,862.29 L1039.44,862.86 L1040.77,863.42 L1042.10,863.99 L1043.42,864.56 L1044.75,865.13 L1046.08,865.71 L1047.41,866.29 L1048.74,866.87 L1050.06,867.46 L1051.39,868.06 L1052.72,868.65 L1054.05,869.25 L1055.38,869.85 L1056.70,870.46 L1058.03,871.07 L1059.36,871.68 L1060.69,872.29 L1062.01,872.91 L1063.34,873.54 L1064.67,874.17 L1066.00,874.80 L1067.33,875.44 L1068.65,876.09 L1069.98,876.74 L1071.31,877.40 L1072.64,878.06 L1073.97,878.71 L1075.29,879.37 L1076.62,880.03 L1077.95,880.69 L1079.28,881.36 L1080.61,882.03 L1081.93,882.70 L1083.26,883.37 L1084.59,884.05 L1085.92,884.74 L1087.24,885.43 L1088.57,886.13 L1089.90,886.83 L1091.23,887.54 L1092.56,888.25 L1093.88,888.98 L1095.21,889.71 L1096.54,890.45 L1097.87,891.19 L1099.20,891.95 L1100.52,892.72 L1101.85,893.50 L1103.18,894.29 L1104.51,895.08 L1105.83,895.89 L1107.16,896.71 L1108.49,897.54 L1109.82,898.38 L1111.15,899.23 L1112.47,900.09 L1113.80,900.97 L1115.13,901.85 L1116.46,902.75 L1117.79,903.66 L1119.11,904.58 L1120.44,905.52 L1121.77,906.47 L1123.10,907.44 L1124.43,908.42 L1125.75,909.42 L1127.08,910.43 L1128.41,911.46 L1129.74,912.51 L1131.06,913.57 L1132.39,914.65 L1133.72,915.74 L1135.05,916.84 L1136.38,917.94 L1137.70,919.06 L1139.03,920.18 L1140.36,921.31 L1141.69,922.46 L1143.02,923.62 L1144.34,924.81 L1145.67,926.01 L1147.00,927.24 L1148.33,928.49 L1149.66,929.76 L1150.98,931.07 L1152.31,932.41 L1153.64,933.77 L1154.97,935.18 L1156.29,936.62 L1157.62,938.10 L1158.95,939.62 L1160.28,941.18 L1161.61,942.79 L1162.93,944.44 L1164.26,946.15 L1165.59,947.90 L1166.92,949.77 L1168.25,951.78 L1169.57,953.92 L1170.90,956.18 L1172.23,958.56 L1173.56,961.03 L1174.88,963.60 L1176.21,966.25 L1177.54,968.96 L1178.87,971.73 L1180.20,974.54 L1181.52,977.43 L1182.85,980.41 L1184.18,983.49 L1185.51,986.68 L1186.84,990.01 L1188.16,993.49 L1189.49,997.12 L1190.82,1000.94 L1192.15,1004.95 L1193.48,1009.18 L1194.80,1013.72 L1196.13,1018.62 L1197.46,1023.91 L1198.79,1029.59 L1200.11,1035.69 L1201.44,1042.22 L1202.77,1049.27 L1204.10,1057.10 L1205.43,1065.95 L1206.75,1076.09 L1208.08,1088.22 L1209.41,1102.92 L1210.74,1120.07 L1212.07,1141.04 L1213.39,1166.92 L1213.39,1166.92 L1214.47,1146.26 L1215.54,1130.75 L1216.62,1118.26 L1217.70,1107.39 L1218.77,1097.60 L1219.85,1088.36 L1220.92,1079.16 L1222.00,1069.94 L1223.07,1061.04 L1224.15,1052.80 L1225.22,1045.57 L1226.30,1039.62 L1227.38,1034.31 L1228.45,1029.36 L1229.53,1024.75 L1230.60,1020.45 L1231.68,1016.43 L1232.75,1012.67 L1233.83,1009.14 L1234.90,1005.83 L1235.98,1002.70 L1237.06,999.72 L1238.13,996.87 L1239.21,994.09 L1240.28,991.40 L1241.36,988.80 L1242.43,986.27 L1243.51,983.82 L1244.58,981.45 L1245.66,979.14 L1246.73,976.91 L1247.81,974.75 L1248.89,972.66 L1249.96,970.63 L1251.04,968.66 L1252.11,966.76 L1253.19,964.91 L1254.26,963.12 L1255.34,961.38 L1256.41,959.69 L1257.49,958.06 L1258.57,956.47 L1259.64,954.92 L1260.72,953.42 L1261.79,951.95 L1262.87,950.51 L1263.94,949.11 L1265.02,947.74 L1266.09,946.40 L1267.17,945.09 L1268.25,943.81 L1269.32,942.55 L1270.40,941.32 L1271.47,940.12 L1272.55,938.93 L1273.62,937.77 L1274.70,936.63 L1275.77,935.50 L1276.85,934.40 L1277.93,933.31 L1279.00,932.23 L1280.08,931.17 L1281.15,930.12 L1282.23,929.08 L1283.30,928.05 L1284.38,927.03 L1285.45,926.02 L1286.53,925.01 L1287.61,924.00 L1288.68,923.00 L1289.76,921.99 L1290.83,920.99 L1291.91,919.99 L1292.98,918.99 L1294.06,917.99 L1295.13,917.00 L1296.21,916.01 L1297.28,915.04 L1298.36,914.07 L1299.44,913.12 L1300.51,912.18 L1301.59,911.25 L1302.66,910.34 L1303.74,909.45 L1304.81,908.58 L1305.89,907.72 L1306.96,906.89 L1308.04,906.08 L1309.12,905.30 L1310.19,904.54 L1311.27,903.81 L1312.34,903.09 L1313.42,902.39 L1314.49,901.70 L1315.57,901.02 L1316.64,900.34 L1317.72,899.68 L1318.80,899.03 L1319.87,898.38 L1320.95,897.75 L1322.02,897.12 L1323.10,896.51 L1324.17,895.90 L1325.25,895.30 L1326.32,894.70 L1327.40,894.12 L1328.48,893.54 L1329.55,892.97 L1330.63,892.41 L1331.70,891.86 L1332.78,891.31 L1333.85,890.77 L1334.93,890.23 L1336.00,889.71 L1337.08,889.18 L1338.15,888.67 L1339.23,888.16 L1340.31,887.65 L1341.38,887.16 L1342.46,886.66 L1343.53,886.17 L1344.61,885.69 L1345.68,885.21 L1346.76,884.74 L1347.83,884.27 L1348.91,883.81 L1349.99,883.36 L1351.06,882.92 L1352.14,882.49 L1353.21,882.06 L1354.29,881.64 L1355.36,881.23 L1356.44,880.82 L1357.51,880.42 L1358.59,880.02 L1359.67,879.63 L1360.74,879.24 L1361.82,878.86 L1362.89,878.47 L1363.97,878.09 L1365.04,877.71 L1366.12,877.33 L1367.19,876.95 L1368.27,876.57 L1369.35,876.20 L1370.42,875.82 L1371.50,875.45 L1372.57,875.08 L1373.65,874.72 L1374.72,874.35 L1375.80,873.99 L1376.87,873.63 L1377.95,873.28 L1379.02,872.92 L1380.10,872.57 L1381.18,872.22 L1382.25,871.87 L1383.33,871.52 L1384.40,871.17 L1385.48,870.82 L1386.55,870.48 L1387.63,870.14 L1388.70,869.79 L1389.78,869.45 L1390.86,869.11 L1391.93,868.77 L1393.01,868.43 L1394.08,868.10 L1395.16,867.76 L1396.23,867.42 L1397.31,867.08 L1398.38,866.74 L1399.46,866.41 L1400.54,866.07 L1401.61,865.73 L1402.69,865.39 L1403.76,865.05 L1404.84,864.71 L1405.91,864.37 L1406.99,864.03 L1408.06,863.69 L1409.14,863.35 L1410.22,863.00 L1411.29,862.66 L1412.37,862.31 L1413.44,861.96 L1414.52,861.61 L1415.59,861.26 L1416.67,860.91 L1417.74,860.55 L1418.82,860.20 L1419.89,859.85 L1420.97,859.50 L1422.05,859.15 L1423.12,858.80 L1424.20,858.45 L1425.27,858.11 L1426.35,857.76 L1427.42,857.42 L1428.50,857.08 L1429.57,856.74 L1430.65,856.40 L1431.73,856.07 L1432.80,855.73 L1433.88,855.41 L1434.95,855.08 L1436.03,854.76 L1437.10,854.44 L1438.18,854.13 L1439.25,853.82 L1440.33,853.52 L1441.41,853.22 L1442.48,852.92 L1443.56,852.63 L1444.63,852.34 L1445.71,852.06 L1446.78,851.78 L1447.86,851.50 L1448.93,851.22 L1450.01,850.94 L1451.09,850.66 L1452.16,850.39 L1453.24,850.12 L1454.31,849.85 L1455.39,849.58 L1456.46,849.32 L1457.54,849.05 L1458.61,848.79 L1459.69,848.53 L1460.76,848.27 L1461.84,848.02 L1462.92,847.77 L1463.99,847.52 L1465.07,847.27 L1466.14,847.02 L1467.22,846.78 L1468.29,846.54 L1469.37,846.30 L1470.44,846.06 L1471.52,845.83 L1472.60,845.60 L1473.67,845.37 L1474.75,845.15 L1475.82,844.92 L1476.90,844.70 L1477.97,844.49 L1479.05,844.27 L1480.12,844.06 L1481.20,843.85" fill="none" stroke="#000" stroke-width="4.2" stroke-linejoin="round" stroke-linecap="butt"/>
<line x1="882.75" y1="765.40" x2="889.75" y2="765.40" stroke="#000" stroke-width="2"/>
<line x1="882.75" y1="805.30" x2="889.75" y2="805.30" stroke="#000" stroke-width="2"/>
<line x1="882.75" y1="845.50" x2="889.75" y2="845.50" stroke="#000" stroke-width="2"/>
<line x1="882.75" y1="887.40" x2="889.75" y2="887.40" stroke="#000" stroke-width="2"/>
<line x1="882.75" y1="925.50" x2="889.75" y2="925.50" stroke="#000" stroke-width="2"/>
<line x1="882.75" y1="967.00" x2="889.75" y2="967.00" stroke="#000" stroke-width="2"/>
<line x1="882.75" y1="1005.40" x2="889.75" y2="1005.40" stroke="#000" stroke-width="2"/>
<line x1="882.75" y1="1045.50" x2="889.75" y2="1045.50" stroke="#000" stroke-width="2"/>
<line x1="882.75" y1="1085.60" x2="889.75" y2="1085.60" stroke="#000" stroke-width="2"/>
<line x1="882.75" y1="1125.60" x2="889.75" y2="1125.60" stroke="#000" stroke-width="2"/>
<line x1="882.75" y1="1167.00" x2="889.75" y2="1167.00" stroke="#000" stroke-width="2"/>
<line x1="882.75" y1="745.45" x2="885.75" y2="745.45" stroke="#000" stroke-width="2"/>
<line x1="882.75" y1="785.35" x2="885.75" y2="785.35" stroke="#000" stroke-width="2"/>
<line x1="882.75" y1="825.40" x2="885.75" y2="825.40" stroke="#000" stroke-width="2"/>
<line x1="882.75" y1="866.45" x2="885.75" y2="866.45" stroke="#000" stroke-width="2"/>
<line x1="882.75" y1="906.45" x2="885.75" y2="906.45" stroke="#000" stroke-width="2"/>
<line x1="882.75" y1="946.25" x2="885.75" y2="946.25" stroke="#000" stroke-width="2"/>
<line x1="882.75" y1="986.20" x2="885.75" y2="986.20" stroke="#000" stroke-width="2"/>
<line x1="882.75" y1="1025.45" x2="885.75" y2="1025.45" stroke="#000" stroke-width="2"/>
<line x1="882.75" y1="1065.55" x2="885.75" y2="1065.55" stroke="#000" stroke-width="2"/>
<line x1="882.75" y1="1105.60" x2="885.75" y2="1105.60" stroke="#000" stroke-width="2"/>
<line x1="882.75" y1="1146.30" x2="885.75" y2="1146.30" stroke="#000" stroke-width="2"/>
<line x1="882.75" y1="1186.15" x2="885.75" y2="1186.15" stroke="#000" stroke-width="2"/>
<line x1="957.50" y1="1205.30" x2="957.50" y2="1198.30" stroke="#000" stroke-width="2"/>
<line x1="1032.00" y1="1205.30" x2="1032.00" y2="1198.30" stroke="#000" stroke-width="2"/>
<line x1="1106.50" y1="1205.30" x2="1106.50" y2="1198.30" stroke="#000" stroke-width="2"/>
<line x1="1181.00" y1="1205.30" x2="1181.00" y2="1198.30" stroke="#000" stroke-width="2"/>
<line x1="1257.50" y1="1205.30" x2="1257.50" y2="1198.30" stroke="#000" stroke-width="2"/>
<line x1="1332.00" y1="1205.30" x2="1332.00" y2="1198.30" stroke="#000" stroke-width="2"/>
<line x1="1406.70" y1="1205.30" x2="1406.70" y2="1198.30" stroke="#000" stroke-width="2"/>
<line x1="920.12" y1="1205.30" x2="920.12" y2="1201.30" stroke="#000" stroke-width="2"/>
<line x1="994.75" y1="1205.30" x2="994.75" y2="1201.30" stroke="#000" stroke-width="2"/>
<line x1="1069.25" y1="1205.30" x2="1069.25" y2="1201.30" stroke="#000" stroke-width="2"/>
<line x1="1143.75" y1="1205.30" x2="1143.75" y2="1201.30" stroke="#000" stroke-width="2"/>
<line x1="1219.25" y1="1205.30" x2="1219.25" y2="1201.30" stroke="#000" stroke-width="2"/>
<line x1="1294.75" y1="1205.30" x2="1294.75" y2="1201.30" stroke="#000" stroke-width="2"/>
<line x1="1369.35" y1="1205.30" x2="1369.35" y2="1201.30" stroke="#000" stroke-width="2"/>
<line x1="1443.95" y1="1205.30" x2="1443.95" y2="1201.30" stroke="#000" stroke-width="2"/>
<rect x="882.75" y="725.50" width="598.45" height="479.80" fill="none" stroke="#000" stroke-width="2"/>
<text x="870.00" y="730.30" font-size="19.00" fill="#2a2a2a" text-anchor="end" textLength="11.31" lengthAdjust="spacing">0</text>
<text x="870.00" y="770.20" font-size="19.00" fill="#2a2a2a" text-anchor="end" textLength="18.08" lengthAdjust="spacing">-5</text>
<text x="870.00" y="810.10" font-size="19.00" fill="#2a2a2a" text-anchor="end" textLength="29.38" lengthAdjust="spacing">-10</text>
<text x="870.00" y="850.30" font-size="19.00" fill="#2a2a2a" text-anchor="end" textLength="29.38" lengthAdjust="spacing">-15</text>
<text x="870.00" y="892.20" font-size="19.00" fill="#2a2a2a" text-anchor="end" textLength="29.38" lengthAdjust="spacing">-20</text>
<text x="870.00" y="930.30" font-size="19.00" fill="#2a2a2a" text-anchor="end" textLength="29.38" lengthAdjust="spacing">-25</text>
<text x="870.00" y="971.80" font-size="19.00" fill="#2a2a2a" text-anchor="end" textLength="29.38" lengthAdjust="spacing">-30</text>
<text x="870.00" y="1010.20" font-size="19.00" fill="#2a2a2a" text-anchor="end" textLength="29.38" lengthAdjust="spacing">-35</text>
<text x="870.00" y="1050.30" font-size="19.00" fill="#2a2a2a" text-anchor="end" textLength="29.38" lengthAdjust="spacing">-40</text>
<text x="870.00" y="1090.40" font-size="19.00" fill="#2a2a2a" text-anchor="end" textLength="29.38" lengthAdjust="spacing">-45</text>
<text x="870.00" y="1130.40" font-size="19.00" fill="#2a2a2a" text-anchor="end" textLength="29.38" lengthAdjust="spacing">-50</text>
<text x="870.00" y="1171.80" font-size="19.00" fill="#2a2a2a" text-anchor="end" textLength="29.38" lengthAdjust="spacing">-55</text>
<text x="870.00" y="1210.10" font-size="19.00" fill="#2a2a2a" text-anchor="end" textLength="29.38" lengthAdjust="spacing">-60</text>
<text x="882.75" y="1234.00" font-size="19.00" fill="#2a2a2a" text-anchor="middle" textLength="28.26" lengthAdjust="spacing">8.0</text>
<text x="957.50" y="1234.00" font-size="19.00" fill="#2a2a2a" text-anchor="middle" textLength="28.26" lengthAdjust="spacing">8.5</text>
<text x="1032.00" y="1234.00" font-size="19.00" fill="#2a2a2a" text-anchor="middle" textLength="28.26" lengthAdjust="spacing">9.0</text>
<text x="1106.50" y="1234.00" font-size="19.00" fill="#2a2a2a" text-anchor="middle" textLength="28.26" lengthAdjust="spacing">9.5</text>
<text x="1181.00" y="1234.00" font-size="19.00" fill="#2a2a2a" text-anchor="middle" textLength="39.57" lengthAdjust="spacing">10.0</text>
<text x="1257.50" y="1234.00" font-size="19.00" fill="#2a2a2a" text-anchor="middle" textLength="39.57" lengthAdjust="spacing">10.5</text>
<text x="1332.00" y="1234.00" font-size="19.00" fill="#2a2a2a" text-anchor="middle" textLength="38.06" lengthAdjust="spacing">11.0</text>
<text x="1406.70" y="1234.00" font-size="19.00" fill="#2a2a2a" text-anchor="middle" textLength="38.06" lengthAdjust="spacing">11.5</text>
<text x="1481.20" y="1234.00" font-size="19.00" fill="#2a2a2a" text-anchor="middle" textLength="39.57" lengthAdjust="spacing">12.0</text>
<text x="1071.90" y="1277.40" font-size="29.50" fill="#333" textLength="218.59" lengthAdjust="spacingAndGlyphs">Frequency (GHz)</text>
<text x="819.10" y="1092.00" font-size="24.00" fill="#333" textLength="235.00" lengthAdjust="spacingAndGlyphs" transform="rotate(-90 819.10 1092.00)">Reflection Loss (dB)</text>
<clipPath id="cp3"><rect x="0" y="1420" width="704" height="623"/></clipPath><g clip-path="url(#cp3)">
<line x1="160.44" y1="1476.75" x2="160.44" y2="1923.75" stroke="#9CCB7E" stroke-width="1" stroke-dasharray="1.2 1.3 1.2 1.3 1.2 8" opacity="0.9"/>
<line x1="231.31" y1="1476.75" x2="231.31" y2="1923.75" stroke="#9CCB7E" stroke-width="1" stroke-dasharray="1.2 1.3 1.2 1.3 1.2 8" opacity="0.9"/>
<line x1="302.19" y1="1476.75" x2="302.19" y2="1923.75" stroke="#9CCB7E" stroke-width="1" stroke-dasharray="1.2 1.3 1.2 1.3 1.2 8" opacity="0.9"/>
<line x1="373.06" y1="1476.75" x2="373.06" y2="1923.75" stroke="#9CCB7E" stroke-width="1" stroke-dasharray="1.2 1.3 1.2 1.3 1.2 8" opacity="0.9"/>
<line x1="443.94" y1="1476.75" x2="443.94" y2="1923.75" stroke="#9CCB7E" stroke-width="1" stroke-dasharray="1.2 1.3 1.2 1.3 1.2 8" opacity="0.9"/>
<line x1="514.81" y1="1476.75" x2="514.81" y2="1923.75" stroke="#9CCB7E" stroke-width="1" stroke-dasharray="1.2 1.3 1.2 1.3 1.2 8" opacity="0.9"/>
<line x1="585.69" y1="1476.75" x2="585.69" y2="1923.75" stroke="#9CCB7E" stroke-width="1" stroke-dasharray="1.2 1.3 1.2 1.3 1.2 8" opacity="0.9"/>
<line x1="656.56" y1="1476.75" x2="656.56" y2="1923.75" stroke="#9CCB7E" stroke-width="1" stroke-dasharray="1.2 1.3 1.2 1.3 1.2 8" opacity="0.9"/>
<line x1="125.00" y1="1499.10" x2="692.00" y2="1499.10" stroke="#9CCB7E" stroke-width="1" stroke-dasharray="1.2 1.3 1.2 1.3 1.2 8" opacity="0.9"/>
<line x1="125.00" y1="1543.80" x2="692.00" y2="1543.80" stroke="#9CCB7E" stroke-width="1" stroke-dasharray="1.2 1.3 1.2 1.3 1.2 8" opacity="0.9"/>
<line x1="125.00" y1="1588.50" x2="692.00" y2="1588.50" stroke="#9CCB7E" stroke-width="1" stroke-dasharray="1.2 1.3 1.2 1.3 1.2 8" opacity="0.9"/>
<line x1="125.00" y1="1633.20" x2="692.00" y2="1633.20" stroke="#9CCB7E" stroke-width="1" stroke-dasharray="1.2 1.3 1.2 1.3 1.2 8" opacity="0.9"/>
<line x1="125.00" y1="1677.90" x2="692.00" y2="1677.90" stroke="#9CCB7E" stroke-width="1" stroke-dasharray="1.2 1.3 1.2 1.3 1.2 8" opacity="0.9"/>
<line x1="125.00" y1="1722.60" x2="692.00" y2="1722.60" stroke="#9CCB7E" stroke-width="1" stroke-dasharray="1.2 1.3 1.2 1.3 1.2 8" opacity="0.9"/>
<line x1="125.00" y1="1767.30" x2="692.00" y2="1767.30" stroke="#9CCB7E" stroke-width="1" stroke-dasharray="1.2 1.3 1.2 1.3 1.2 8" opacity="0.9"/>
<line x1="125.00" y1="1812.00" x2="692.00" y2="1812.00" stroke="#9CCB7E" stroke-width="1" stroke-dasharray="1.2 1.3 1.2 1.3 1.2 8" opacity="0.9"/>
<line x1="125.00" y1="1856.70" x2="692.00" y2="1856.70" stroke="#9CCB7E" stroke-width="1" stroke-dasharray="1.2 1.3 1.2 1.3 1.2 8" opacity="0.9"/>
<line x1="125.00" y1="1901.40" x2="692.00" y2="1901.40" stroke="#9CCB7E" stroke-width="1" stroke-dasharray="1.2 1.3 1.2 1.3 1.2 8" opacity="0.9"/>
<line x1="195.88" y1="1476.75" x2="195.88" y2="1923.75" stroke="#4068C4" stroke-width="1.25"/>
<line x1="266.75" y1="1476.75" x2="266.75" y2="1923.75" stroke="#4068C4" stroke-width="1.25"/>
<line x1="337.62" y1="1476.75" x2="337.62" y2="1923.75" stroke="#4068C4" stroke-width="1.25"/>
<line x1="408.50" y1="1476.75" x2="408.50" y2="1923.75" stroke="#4068C4" stroke-width="1.25"/>
<line x1="479.38" y1="1476.75" x2="479.38" y2="1923.75" stroke="#4068C4" stroke-width="1.25"/>
<line x1="550.25" y1="1476.75" x2="550.25" y2="1923.75" stroke="#4068C4" stroke-width="1.25"/>
<line x1="621.12" y1="1476.75" x2="621.12" y2="1923.75" stroke="#4068C4" stroke-width="1.25"/>
<line x1="125.00" y1="1521.45" x2="692.00" y2="1521.45" stroke="#4068C4" stroke-width="1.25"/>
<line x1="125.00" y1="1566.15" x2="692.00" y2="1566.15" stroke="#4068C4" stroke-width="1.25"/>
<line x1="125.00" y1="1610.85" x2="692.00" y2="1610.85" stroke="#4068C4" stroke-width="1.25"/>
<line x1="125.00" y1="1655.55" x2="692.00" y2="1655.55" stroke="#4068C4" stroke-width="1.25"/>
<line x1="125.00" y1="1700.25" x2="692.00" y2="1700.25" stroke="#4068C4" stroke-width="1.25"/>
<line x1="125.00" y1="1744.95" x2="692.00" y2="1744.95" stroke="#4068C4" stroke-width="1.25"/>
<line x1="125.00" y1="1789.65" x2="692.00" y2="1789.65" stroke="#4068C4" stroke-width="1.25"/>
<line x1="125.00" y1="1834.35" x2="692.00" y2="1834.35" stroke="#4068C4" stroke-width="1.25"/>
<line x1="125.00" y1="1879.05" x2="692.00" y2="1879.05" stroke="#4068C4" stroke-width="1.25"/>
<rect x="465.40" y="1523.50" width="208.60" height="39.40" fill="#F0F0F0" stroke="#41719C" stroke-width="2"/>
<text x="539.80" y="1554.10" font-size="23.30" fill="#111" textLength="77.11" lengthAdjust="spacingAndGlyphs">EPH 300</text>
<path d="M125.00,1674.64 L126.42,1675.74 L127.84,1676.83 L129.26,1677.91 L130.68,1678.99 L132.11,1680.06 L133.53,1681.13 L134.95,1682.20 L136.37,1683.25 L137.79,1684.31 L139.21,1685.36 L140.63,1686.40 L142.05,1687.44 L143.47,1688.47 L144.89,1689.50 L146.32,1690.53 L147.74,1691.55 L149.16,1692.57 L150.58,1693.58 L152.00,1694.59 L153.42,1695.59 L154.84,1696.60 L156.26,1697.59 L157.68,1698.59 L159.11,1699.58 L160.53,1700.57 L161.95,1701.55 L163.37,1702.53 L164.79,1703.51 L166.21,1704.49 L167.63,1705.46 L169.05,1706.43 L170.47,1707.39 L171.89,1708.36 L173.32,1709.32 L174.74,1710.28 L176.16,1711.24 L177.58,1712.19 L179.00,1713.14 L180.42,1714.09 L181.84,1715.04 L183.26,1715.99 L184.68,1716.93 L186.11,1717.88 L187.53,1718.82 L188.95,1719.76 L190.37,1720.70 L191.79,1721.63 L193.21,1722.57 L194.63,1723.51 L196.05,1724.44 L197.47,1725.37 L198.89,1726.31 L200.32,1727.24 L201.74,1728.17 L203.16,1729.10 L204.58,1730.03 L206.00,1730.96 L207.42,1731.89 L208.84,1732.82 L210.26,1733.75 L211.68,1734.68 L213.11,1735.61 L214.53,1736.54 L215.95,1737.47 L217.37,1738.40 L218.79,1739.34 L220.21,1740.27 L221.63,1741.20 L223.05,1742.14 L224.47,1743.07 L225.89,1744.01 L227.32,1744.94 L228.74,1745.88 L230.16,1746.82 L231.58,1747.76 L233.00,1748.71 L234.42,1749.65 L235.84,1750.60 L237.26,1751.55 L238.68,1752.50 L240.11,1753.45 L241.53,1754.41 L242.95,1755.37 L244.37,1756.34 L245.79,1757.31 L247.21,1758.28 L248.63,1759.26 L250.05,1760.25 L251.47,1761.23 L252.89,1762.23 L254.32,1763.23 L255.74,1764.24 L257.16,1765.25 L258.58,1766.27 L260.00,1767.30 L261.42,1768.33 L262.84,1769.37 L264.26,1770.42 L265.68,1771.48 L267.11,1772.54 L268.53,1773.62 L269.95,1774.70 L271.37,1775.79 L272.79,1776.89 L274.21,1777.99 L275.63,1779.10 L277.05,1780.22 L278.47,1781.34 L279.89,1782.46 L281.32,1783.59 L282.74,1784.72 L284.16,1785.86 L285.58,1787.00 L287.00,1788.14 L288.42,1789.28 L289.84,1790.42 L291.26,1791.56 L292.68,1792.71 L294.11,1793.85 L295.53,1794.99 L296.95,1796.13 L298.37,1797.27 L299.79,1798.41 L301.21,1799.54 L302.63,1800.67 L304.05,1801.80 L305.47,1802.92 L306.89,1804.04 L308.32,1805.15 L309.74,1806.26 L311.16,1807.37 L312.58,1808.47 L314.00,1809.56 L315.42,1810.65 L316.84,1811.74 L318.26,1812.82 L319.68,1813.90 L321.11,1814.97 L322.53,1816.03 L323.95,1817.09 L325.37,1818.14 L326.79,1819.19 L328.21,1820.23 L329.63,1821.26 L331.05,1822.29 L332.47,1823.31 L333.89,1824.32 L335.32,1825.33 L336.74,1826.32 L338.16,1827.32 L339.58,1828.30 L341.00,1829.28 L342.42,1830.25 L343.84,1831.21 L345.26,1832.16 L346.68,1833.11 L348.11,1834.04 L349.53,1834.97 L350.95,1835.89 L352.37,1836.80 L353.79,1837.70 L355.21,1838.59 L356.63,1839.48 L358.05,1840.35 L359.47,1841.22 L360.89,1842.07 L362.32,1842.92 L363.74,1843.75 L365.16,1844.57 L366.58,1845.39 L368.00,1846.19 L369.42,1846.99 L370.84,1847.77 L372.26,1848.54 L373.68,1849.30 L375.11,1850.05 L376.53,1850.79 L377.95,1851.52 L379.37,1852.23 L380.79,1852.93 L382.21,1853.62 L383.63,1854.30 L385.05,1854.96 L386.47,1855.60 L387.89,1856.23 L389.32,1856.85 L390.74,1857.45 L392.16,1858.04 L393.58,1858.61 L395.00,1859.16 L396.42,1859.69 L397.84,1860.21 L399.26,1860.71 L400.68,1861.19 L402.11,1861.66 L403.53,1862.10 L404.95,1862.53 L406.37,1862.94 L407.79,1863.32 L409.21,1863.69 L410.63,1864.03 L412.05,1864.36 L413.47,1864.66 L414.89,1864.94 L416.32,1865.20 L417.74,1865.43 L419.16,1865.65 L420.58,1865.84 L422.00,1866.00 L423.42,1866.14 L424.84,1866.26 L426.26,1866.35 L427.68,1866.42 L429.11,1866.46 L430.53,1866.47 L431.95,1866.46 L433.37,1866.42 L434.79,1866.36 L436.21,1866.27 L437.63,1866.16 L439.05,1866.02 L440.47,1865.86 L441.89,1865.68 L443.32,1865.47 L444.74,1865.24 L446.16,1864.99 L447.58,1864.71 L449.00,1864.42 L450.42,1864.10 L451.84,1863.76 L453.26,1863.39 L454.68,1863.01 L456.11,1862.61 L457.53,1862.19 L458.95,1861.75 L460.37,1861.29 L461.79,1860.81 L463.21,1860.31 L464.63,1859.79 L466.05,1859.26 L467.47,1858.71 L468.89,1858.14 L470.32,1857.55 L471.74,1856.95 L473.16,1856.33 L474.58,1855.70 L476.00,1855.05 L477.42,1854.39 L478.84,1853.71 L480.26,1853.01 L481.68,1852.31 L483.11,1851.59 L484.53,1850.85 L485.95,1850.10 L487.37,1849.34 L488.79,1848.57 L490.21,1847.79 L491.63,1846.99 L493.05,1846.18 L494.47,1845.36 L495.89,1844.54 L497.32,1843.70 L498.74,1842.85 L500.16,1841.99 L501.58,1841.12 L503.00,1840.24 L504.42,1839.36 L505.84,1838.46 L507.26,1837.56 L508.68,1836.65 L510.11,1835.74 L511.53,1834.81 L512.95,1833.89 L514.37,1832.95 L515.79,1832.01 L517.21,1831.06 L518.63,1830.11 L520.05,1829.15 L521.47,1828.19 L522.89,1827.23 L524.32,1826.26 L525.74,1825.29 L527.16,1824.31 L528.58,1823.33 L530.00,1822.35 L531.42,1821.37 L532.84,1820.38 L534.26,1819.40 L535.68,1818.41 L537.11,1817.43 L538.53,1816.44 L539.95,1815.45 L541.37,1814.46 L542.79,1813.48 L544.21,1812.49 L545.63,1811.51 L547.05,1810.53 L548.47,1809.55 L549.89,1808.57 L551.32,1807.59 L552.74,1806.62 L554.16,1805.65 L555.58,1804.69 L557.00,1803.72 L558.42,1802.76 L559.84,1801.81 L561.26,1800.85 L562.68,1799.90 L564.11,1798.95 L565.53,1798.01 L566.95,1797.06 L568.37,1796.12 L569.79,1795.19 L571.21,1794.25 L572.63,1793.32 L574.05,1792.39 L575.47,1791.47 L576.89,1790.55 L578.32,1789.63 L579.74,1788.71 L581.16,1787.80 L582.58,1786.89 L584.00,1785.98 L585.42,1785.08 L586.84,1784.18 L588.26,1783.28 L589.68,1782.38 L591.11,1781.49 L592.53,1780.60 L593.95,1779.72 L595.37,1778.83 L596.79,1777.96 L598.21,1777.08 L599.63,1776.20 L601.05,1775.33 L602.47,1774.47 L603.89,1773.60 L605.32,1772.74 L606.74,1771.88 L608.16,1771.03 L609.58,1770.17 L611.00,1769.33 L612.42,1768.48 L613.84,1767.64 L615.26,1766.80 L616.68,1765.96 L618.11,1765.13 L619.53,1764.30 L620.95,1763.47 L622.37,1762.65 L623.79,1761.83 L625.21,1761.01 L626.63,1760.19 L628.05,1759.38 L629.47,1758.57 L630.89,1757.77 L632.32,1756.97 L633.74,1756.17 L635.16,1755.37 L636.58,1754.58 L638.00,1753.79 L639.42,1753.01 L640.84,1752.22 L642.26,1751.44 L643.68,1750.67 L645.11,1749.89 L646.53,1749.12 L647.95,1748.36 L649.37,1747.59 L650.79,1746.83 L652.21,1746.08 L653.63,1745.32 L655.05,1744.57 L656.47,1743.83 L657.89,1743.08 L659.32,1742.34 L660.74,1741.61 L662.16,1740.87 L663.58,1740.14 L665.00,1739.41 L666.42,1738.69 L667.84,1737.97 L669.26,1737.25 L670.68,1736.54 L672.11,1735.83 L673.53,1735.12 L674.95,1734.42 L676.37,1733.72 L677.79,1733.02 L679.21,1732.33 L680.63,1731.63 L682.05,1730.95 L683.47,1730.26 L684.89,1729.58 L686.32,1728.91 L687.74,1728.23 L689.16,1727.56 L690.58,1726.90 L692.00,1726.23" fill="none" stroke="#000" stroke-width="4.4" stroke-linejoin="round" stroke-linecap="butt"/>
<line x1="125.00" y1="1521.45" x2="133.00" y2="1521.45" stroke="#000" stroke-width="1.6"/>
<line x1="125.00" y1="1566.15" x2="133.00" y2="1566.15" stroke="#000" stroke-width="1.6"/>
<line x1="125.00" y1="1610.85" x2="133.00" y2="1610.85" stroke="#000" stroke-width="1.6"/>
<line x1="125.00" y1="1655.55" x2="133.00" y2="1655.55" stroke="#000" stroke-width="1.6"/>
<line x1="125.00" y1="1700.25" x2="133.00" y2="1700.25" stroke="#000" stroke-width="1.6"/>
<line x1="125.00" y1="1744.95" x2="133.00" y2="1744.95" stroke="#000" stroke-width="1.6"/>
<line x1="125.00" y1="1789.65" x2="133.00" y2="1789.65" stroke="#000" stroke-width="1.6"/>
<line x1="125.00" y1="1834.35" x2="133.00" y2="1834.35" stroke="#000" stroke-width="1.6"/>
<line x1="125.00" y1="1879.05" x2="133.00" y2="1879.05" stroke="#000" stroke-width="1.6"/>
<line x1="125.00" y1="1499.10" x2="130.00" y2="1499.10" stroke="#000" stroke-width="1.6"/>
<line x1="125.00" y1="1543.80" x2="130.00" y2="1543.80" stroke="#000" stroke-width="1.6"/>
<line x1="125.00" y1="1588.50" x2="130.00" y2="1588.50" stroke="#000" stroke-width="1.6"/>
<line x1="125.00" y1="1633.20" x2="130.00" y2="1633.20" stroke="#000" stroke-width="1.6"/>
<line x1="125.00" y1="1677.90" x2="130.00" y2="1677.90" stroke="#000" stroke-width="1.6"/>
<line x1="125.00" y1="1722.60" x2="130.00" y2="1722.60" stroke="#000" stroke-width="1.6"/>
<line x1="125.00" y1="1767.30" x2="130.00" y2="1767.30" stroke="#000" stroke-width="1.6"/>
<line x1="125.00" y1="1812.00" x2="130.00" y2="1812.00" stroke="#000" stroke-width="1.6"/>
<line x1="125.00" y1="1856.70" x2="130.00" y2="1856.70" stroke="#000" stroke-width="1.6"/>
<line x1="125.00" y1="1901.40" x2="130.00" y2="1901.40" stroke="#000" stroke-width="1.6"/>
<line x1="195.88" y1="1923.75" x2="195.88" y2="1915.75" stroke="#000" stroke-width="1.6"/>
<line x1="266.75" y1="1923.75" x2="266.75" y2="1915.75" stroke="#000" stroke-width="1.6"/>
<line x1="337.62" y1="1923.75" x2="337.62" y2="1915.75" stroke="#000" stroke-width="1.6"/>
<line x1="408.50" y1="1923.75" x2="408.50" y2="1915.75" stroke="#000" stroke-width="1.6"/>
<line x1="479.38" y1="1923.75" x2="479.38" y2="1915.75" stroke="#000" stroke-width="1.6"/>
<line x1="550.25" y1="1923.75" x2="550.25" y2="1915.75" stroke="#000" stroke-width="1.6"/>
<line x1="621.12" y1="1923.75" x2="621.12" y2="1915.75" stroke="#000" stroke-width="1.6"/>
<line x1="160.44" y1="1923.75" x2="160.44" y2="1918.75" stroke="#000" stroke-width="1.6"/>
<line x1="231.31" y1="1923.75" x2="231.31" y2="1918.75" stroke="#000" stroke-width="1.6"/>
<line x1="302.19" y1="1923.75" x2="302.19" y2="1918.75" stroke="#000" stroke-width="1.6"/>
<line x1="373.06" y1="1923.75" x2="373.06" y2="1918.75" stroke="#000" stroke-width="1.6"/>
<line x1="443.94" y1="1923.75" x2="443.94" y2="1918.75" stroke="#000" stroke-width="1.6"/>
<line x1="514.81" y1="1923.75" x2="514.81" y2="1918.75" stroke="#000" stroke-width="1.6"/>
<line x1="585.69" y1="1923.75" x2="585.69" y2="1918.75" stroke="#000" stroke-width="1.6"/>
<line x1="656.56" y1="1923.75" x2="656.56" y2="1918.75" stroke="#000" stroke-width="1.6"/>
<rect x="125.00" y="1476.75" width="567.00" height="447.00" fill="none" stroke="#000" stroke-width="1.6"/>
<text x="115.00" y="1482.23" font-size="19.50" fill="#000" text-anchor="end" textLength="10.85" lengthAdjust="spacingAndGlyphs">0</text>
<text x="115.00" y="1526.93" font-size="19.50" fill="#000" text-anchor="end" textLength="17.34" lengthAdjust="spacingAndGlyphs">-2</text>
<text x="115.00" y="1571.63" font-size="19.50" fill="#000" text-anchor="end" textLength="17.34" lengthAdjust="spacingAndGlyphs">-4</text>
<text x="115.00" y="1616.33" font-size="19.50" fill="#000" text-anchor="end" textLength="17.34" lengthAdjust="spacingAndGlyphs">-6</text>
<text x="115.00" y="1661.03" font-size="19.50" fill="#000" text-anchor="end" textLength="17.34" lengthAdjust="spacingAndGlyphs">-8</text>
<text x="115.00" y="1705.73" font-size="19.50" fill="#000" text-anchor="end" textLength="28.18" lengthAdjust="spacingAndGlyphs">-10</text>
<text x="115.00" y="1750.43" font-size="19.50" fill="#000" text-anchor="end" textLength="28.18" lengthAdjust="spacingAndGlyphs">-12</text>
<text x="115.00" y="1795.13" font-size="19.50" fill="#000" text-anchor="end" textLength="28.18" lengthAdjust="spacingAndGlyphs">-14</text>
<text x="115.00" y="1839.83" font-size="19.50" fill="#000" text-anchor="end" textLength="28.18" lengthAdjust="spacingAndGlyphs">-16</text>
<text x="115.00" y="1884.53" font-size="19.50" fill="#000" text-anchor="end" textLength="28.18" lengthAdjust="spacingAndGlyphs">-18</text>
<text x="115.00" y="1929.23" font-size="19.50" fill="#000" text-anchor="end" textLength="28.18" lengthAdjust="spacingAndGlyphs">-20</text>
<text x="125.00" y="1949.50" font-size="19.50" fill="#000" text-anchor="middle" textLength="27.11" lengthAdjust="spacingAndGlyphs">8.0</text>
<text x="195.88" y="1949.50" font-size="19.50" fill="#000" text-anchor="middle" textLength="27.11" lengthAdjust="spacingAndGlyphs">8.5</text>
<text x="266.75" y="1949.50" font-size="19.50" fill="#000" text-anchor="middle" textLength="27.11" lengthAdjust="spacingAndGlyphs">9.0</text>
<text x="337.62" y="1949.50" font-size="19.50" fill="#000" text-anchor="middle" textLength="27.11" lengthAdjust="spacingAndGlyphs">9.5</text>
<text x="408.50" y="1949.50" font-size="19.50" fill="#000" text-anchor="middle" textLength="37.95" lengthAdjust="spacingAndGlyphs">10.0</text>
<text x="479.38" y="1949.50" font-size="19.50" fill="#000" text-anchor="middle" textLength="37.95" lengthAdjust="spacingAndGlyphs">10.5</text>
<text x="550.25" y="1949.50" font-size="19.50" fill="#000" text-anchor="middle" textLength="36.51" lengthAdjust="spacingAndGlyphs">11.0</text>
<text x="621.12" y="1949.50" font-size="19.50" fill="#000" text-anchor="middle" textLength="36.51" lengthAdjust="spacingAndGlyphs">11.5</text>
<text x="692.00" y="1949.50" font-size="19.50" fill="#000" text-anchor="middle" textLength="37.95" lengthAdjust="spacingAndGlyphs">12.0</text>
<text x="305.75" y="1992.25" font-size="25.00" fill="#000" textLength="205.49" lengthAdjust="spacing">Frequency (GHz)</text>
<text x="61.40" y="1794.40" font-size="23.00" fill="#000" textLength="235.90" lengthAdjust="spacingAndGlyphs" transform="rotate(-90 61.40 1794.40)">Reflection Loss (dB)</text>
</g>
<clipPath id="cp4"><rect x="780" y="1472" width="820" height="571"/></clipPath><g clip-path="url(#cp4)">
<line x1="934.19" y1="1477.90" x2="934.19" y2="1928.40" stroke="#9ACB72" stroke-width="1.6" stroke-dasharray="1.8 1.3"/>
<line x1="1016.78" y1="1477.90" x2="1016.78" y2="1928.40" stroke="#9ACB72" stroke-width="1.6" stroke-dasharray="1.8 1.3"/>
<line x1="1099.36" y1="1477.90" x2="1099.36" y2="1928.40" stroke="#9ACB72" stroke-width="1.6" stroke-dasharray="1.8 1.3"/>
<line x1="1181.95" y1="1477.90" x2="1181.95" y2="1928.40" stroke="#9ACB72" stroke-width="1.6" stroke-dasharray="1.8 1.3"/>
<line x1="1264.54" y1="1477.90" x2="1264.54" y2="1928.40" stroke="#9ACB72" stroke-width="1.6" stroke-dasharray="1.8 1.3"/>
<line x1="1347.12" y1="1477.90" x2="1347.12" y2="1928.40" stroke="#9ACB72" stroke-width="1.6" stroke-dasharray="1.8 1.3"/>
<line x1="1429.71" y1="1477.90" x2="1429.71" y2="1928.40" stroke="#9ACB72" stroke-width="1.6" stroke-dasharray="1.8 1.3"/>
<line x1="892.90" y1="1500.43" x2="1471.00" y2="1500.43" stroke="#9ACB72" stroke-width="1.6" stroke-dasharray="1.8 1.3"/>
<line x1="892.90" y1="1545.48" x2="1471.00" y2="1545.48" stroke="#9ACB72" stroke-width="1.6" stroke-dasharray="1.8 1.3"/>
<line x1="892.90" y1="1590.53" x2="1471.00" y2="1590.53" stroke="#9ACB72" stroke-width="1.6" stroke-dasharray="1.8 1.3"/>
<line x1="892.90" y1="1635.58" x2="1471.00" y2="1635.58" stroke="#9ACB72" stroke-width="1.6" stroke-dasharray="1.8 1.3"/>
<line x1="892.90" y1="1680.62" x2="1471.00" y2="1680.62" stroke="#9ACB72" stroke-width="1.6" stroke-dasharray="1.8 1.3"/>
<line x1="892.90" y1="1725.68" x2="1471.00" y2="1725.68" stroke="#9ACB72" stroke-width="1.6" stroke-dasharray="1.8 1.3"/>
<line x1="892.90" y1="1770.73" x2="1471.00" y2="1770.73" stroke="#9ACB72" stroke-width="1.6" stroke-dasharray="1.8 1.3"/>
<line x1="892.90" y1="1815.78" x2="1471.00" y2="1815.78" stroke="#9ACB72" stroke-width="1.6" stroke-dasharray="1.8 1.3"/>
<line x1="892.90" y1="1860.83" x2="1471.00" y2="1860.83" stroke="#9ACB72" stroke-width="1.6" stroke-dasharray="1.8 1.3"/>
<line x1="892.90" y1="1905.88" x2="1471.00" y2="1905.88" stroke="#9ACB72" stroke-width="1.6" stroke-dasharray="1.8 1.3"/>
<line x1="975.49" y1="1477.90" x2="975.49" y2="1928.40" stroke="#2A55B0" stroke-width="1.7"/>
<line x1="1058.07" y1="1477.90" x2="1058.07" y2="1928.40" stroke="#2A55B0" stroke-width="1.7"/>
<line x1="1140.66" y1="1477.90" x2="1140.66" y2="1928.40" stroke="#2A55B0" stroke-width="1.7"/>
<line x1="1223.24" y1="1477.90" x2="1223.24" y2="1928.40" stroke="#2A55B0" stroke-width="1.7"/>
<line x1="1305.83" y1="1477.90" x2="1305.83" y2="1928.40" stroke="#2A55B0" stroke-width="1.7"/>
<line x1="1388.41" y1="1477.90" x2="1388.41" y2="1928.40" stroke="#2A55B0" stroke-width="1.7"/>
<line x1="892.90" y1="1522.95" x2="1471.00" y2="1522.95" stroke="#2A55B0" stroke-width="1.7"/>
<line x1="892.90" y1="1568.00" x2="1471.00" y2="1568.00" stroke="#2A55B0" stroke-width="1.7"/>
<line x1="892.90" y1="1613.05" x2="1471.00" y2="1613.05" stroke="#2A55B0" stroke-width="1.7"/>
<line x1="892.90" y1="1658.10" x2="1471.00" y2="1658.10" stroke="#2A55B0" stroke-width="1.7"/>
<line x1="892.90" y1="1703.15" x2="1471.00" y2="1703.15" stroke="#2A55B0" stroke-width="1.7"/>
<line x1="892.90" y1="1748.20" x2="1471.00" y2="1748.20" stroke="#2A55B0" stroke-width="1.7"/>
<line x1="892.90" y1="1793.25" x2="1471.00" y2="1793.25" stroke="#2A55B0" stroke-width="1.7"/>
<line x1="892.90" y1="1838.30" x2="1471.00" y2="1838.30" stroke="#2A55B0" stroke-width="1.7"/>
<line x1="892.90" y1="1883.35" x2="1471.00" y2="1883.35" stroke="#2A55B0" stroke-width="1.7"/>
<rect x="1232.75" y="1530.50" width="224.75" height="37.70" fill="#F0F0F0" stroke="#41719C" stroke-width="3"/>
<text x="1313.00" y="1556.00" font-size="21.00" fill="#111" textLength="86.01" lengthAdjust="spacingAndGlyphs">EPH 100K</text>
<path d="M892.90,1705.59 L894.35,1706.36 L895.80,1707.14 L897.25,1707.93 L898.70,1708.73 L900.14,1709.53 L901.59,1710.34 L903.04,1711.16 L904.49,1711.98 L905.94,1712.81 L907.39,1713.64 L908.84,1714.48 L910.29,1715.33 L911.74,1716.18 L913.18,1717.04 L914.63,1717.90 L916.08,1718.77 L917.53,1719.64 L918.98,1720.52 L920.43,1721.40 L921.88,1722.29 L923.33,1723.18 L924.78,1724.07 L926.22,1724.97 L927.67,1725.87 L929.12,1726.77 L930.57,1727.67 L932.02,1728.58 L933.47,1729.49 L934.92,1730.41 L936.37,1731.32 L937.82,1732.24 L939.26,1733.16 L940.71,1734.08 L942.16,1735.00 L943.61,1735.93 L945.06,1736.85 L946.51,1737.77 L947.96,1738.70 L949.41,1739.63 L950.85,1740.55 L952.30,1741.48 L953.75,1742.40 L955.20,1743.33 L956.65,1744.25 L958.10,1745.18 L959.55,1746.10 L961.00,1747.02 L962.45,1747.94 L963.89,1748.86 L965.34,1749.78 L966.79,1750.69 L968.24,1751.60 L969.69,1752.51 L971.14,1753.42 L972.59,1754.32 L974.04,1755.23 L975.49,1756.12 L976.93,1757.02 L978.38,1757.91 L979.83,1758.80 L981.28,1759.68 L982.73,1760.56 L984.18,1761.43 L985.63,1762.30 L987.08,1763.17 L988.53,1764.03 L989.97,1764.89 L991.42,1765.74 L992.87,1766.58 L994.32,1767.42 L995.77,1768.25 L997.22,1769.08 L998.67,1769.90 L1000.12,1770.71 L1001.57,1771.52 L1003.01,1772.32 L1004.46,1773.11 L1005.91,1773.89 L1007.36,1774.67 L1008.81,1775.44 L1010.26,1776.20 L1011.71,1776.96 L1013.16,1777.70 L1014.61,1778.44 L1016.05,1779.17 L1017.50,1779.88 L1018.95,1780.59 L1020.40,1781.29 L1021.85,1781.98 L1023.30,1782.67 L1024.75,1783.34 L1026.20,1784.00 L1027.65,1784.65 L1029.09,1785.29 L1030.54,1785.92 L1031.99,1786.54 L1033.44,1787.14 L1034.89,1787.74 L1036.34,1788.32 L1037.79,1788.90 L1039.24,1789.46 L1040.68,1790.01 L1042.13,1790.54 L1043.58,1791.07 L1045.03,1791.58 L1046.48,1792.08 L1047.93,1792.56 L1049.38,1793.03 L1050.83,1793.49 L1052.28,1793.94 L1053.72,1794.37 L1055.17,1794.78 L1056.62,1795.18 L1058.07,1795.57 L1059.52,1795.95 L1060.97,1796.30 L1062.42,1796.65 L1063.87,1796.98 L1065.32,1797.29 L1066.76,1797.59 L1068.21,1797.88 L1069.66,1798.15 L1071.11,1798.41 L1072.56,1798.65 L1074.01,1798.88 L1075.46,1799.09 L1076.91,1799.29 L1078.36,1799.47 L1079.80,1799.65 L1081.25,1799.80 L1082.70,1799.94 L1084.15,1800.07 L1085.60,1800.19 L1087.05,1800.29 L1088.50,1800.38 L1089.95,1800.45 L1091.40,1800.51 L1092.84,1800.55 L1094.29,1800.58 L1095.74,1800.60 L1097.19,1800.60 L1098.64,1800.59 L1100.09,1800.57 L1101.54,1800.53 L1102.99,1800.48 L1104.44,1800.42 L1105.88,1800.34 L1107.33,1800.24 L1108.78,1800.14 L1110.23,1800.02 L1111.68,1799.89 L1113.13,1799.74 L1114.58,1799.58 L1116.03,1799.41 L1117.48,1799.23 L1118.92,1799.03 L1120.37,1798.81 L1121.82,1798.59 L1123.27,1798.35 L1124.72,1798.10 L1126.17,1797.84 L1127.62,1797.56 L1129.07,1797.27 L1130.52,1796.96 L1131.96,1796.65 L1133.41,1796.32 L1134.86,1795.98 L1136.31,1795.62 L1137.76,1795.25 L1139.21,1794.87 L1140.66,1794.48 L1142.11,1794.07 L1143.55,1793.66 L1145.00,1793.23 L1146.45,1792.78 L1147.90,1792.33 L1149.35,1791.86 L1150.80,1791.39 L1152.25,1790.90 L1153.70,1790.40 L1155.15,1789.89 L1156.59,1789.37 L1158.04,1788.84 L1159.49,1788.29 L1160.94,1787.74 L1162.39,1787.18 L1163.84,1786.61 L1165.29,1786.03 L1166.74,1785.45 L1168.19,1784.85 L1169.63,1784.24 L1171.08,1783.63 L1172.53,1783.01 L1173.98,1782.37 L1175.43,1781.74 L1176.88,1781.09 L1178.33,1780.44 L1179.78,1779.78 L1181.23,1779.11 L1182.67,1778.44 L1184.12,1777.76 L1185.57,1777.07 L1187.02,1776.38 L1188.47,1775.68 L1189.92,1774.97 L1191.37,1774.26 L1192.82,1773.55 L1194.27,1772.83 L1195.71,1772.10 L1197.16,1771.37 L1198.61,1770.63 L1200.06,1769.89 L1201.51,1769.15 L1202.96,1768.40 L1204.41,1767.65 L1205.86,1766.89 L1207.31,1766.13 L1208.75,1765.37 L1210.20,1764.60 L1211.65,1763.83 L1213.10,1763.06 L1214.55,1762.28 L1216.00,1761.50 L1217.45,1760.72 L1218.90,1759.93 L1220.35,1759.15 L1221.79,1758.36 L1223.24,1757.57 L1224.69,1756.78 L1226.14,1755.99 L1227.59,1755.19 L1229.04,1754.40 L1230.49,1753.60 L1231.94,1752.81 L1233.38,1752.01 L1234.83,1751.21 L1236.28,1750.41 L1237.73,1749.62 L1239.18,1748.82 L1240.63,1748.02 L1242.08,1747.22 L1243.53,1746.43 L1244.98,1745.63 L1246.42,1744.84 L1247.87,1744.05 L1249.32,1743.25 L1250.77,1742.46 L1252.22,1741.68 L1253.67,1740.89 L1255.12,1740.11 L1256.57,1739.32 L1258.02,1738.54 L1259.46,1737.77 L1260.91,1736.99 L1262.36,1736.22 L1263.81,1735.45 L1265.26,1734.69 L1266.71,1733.93 L1268.16,1733.17 L1269.61,1732.41 L1271.06,1731.66 L1272.50,1730.91 L1273.95,1730.17 L1275.40,1729.43 L1276.85,1728.69 L1278.30,1727.95 L1279.75,1727.22 L1281.20,1726.49 L1282.65,1725.77 L1284.10,1725.05 L1285.54,1724.33 L1286.99,1723.61 L1288.44,1722.90 L1289.89,1722.19 L1291.34,1721.48 L1292.79,1720.78 L1294.24,1720.08 L1295.69,1719.38 L1297.14,1718.68 L1298.58,1717.99 L1300.03,1717.30 L1301.48,1716.62 L1302.93,1715.94 L1304.38,1715.26 L1305.83,1714.58 L1307.28,1713.90 L1308.73,1713.23 L1310.18,1712.56 L1311.62,1711.90 L1313.07,1711.24 L1314.52,1710.58 L1315.97,1709.92 L1317.42,1709.26 L1318.87,1708.61 L1320.32,1707.96 L1321.77,1707.32 L1323.22,1706.67 L1324.66,1706.03 L1326.11,1705.39 L1327.56,1704.76 L1329.01,1704.13 L1330.46,1703.49 L1331.91,1702.87 L1333.36,1702.24 L1334.81,1701.62 L1336.25,1701.00 L1337.70,1700.38 L1339.15,1699.77 L1340.60,1699.15 L1342.05,1698.54 L1343.50,1697.93 L1344.95,1697.33 L1346.40,1696.73 L1347.85,1696.12 L1349.29,1695.53 L1350.74,1694.93 L1352.19,1694.34 L1353.64,1693.74 L1355.09,1693.16 L1356.54,1692.57 L1357.99,1691.98 L1359.44,1691.40 L1360.89,1690.82 L1362.33,1690.25 L1363.78,1689.67 L1365.23,1689.10 L1366.68,1688.53 L1368.13,1687.96 L1369.58,1687.39 L1371.03,1686.83 L1372.48,1686.27 L1373.93,1685.71 L1375.37,1685.15 L1376.82,1684.60 L1378.27,1684.05 L1379.72,1683.50 L1381.17,1682.95 L1382.62,1682.40 L1384.07,1681.86 L1385.52,1681.32 L1386.97,1680.78 L1388.41,1680.25 L1389.86,1679.71 L1391.31,1679.18 L1392.76,1678.65 L1394.21,1678.13 L1395.66,1677.60 L1397.11,1677.08 L1398.56,1676.56 L1400.01,1676.04 L1401.45,1675.52 L1402.90,1675.01 L1404.35,1674.50 L1405.80,1673.99 L1407.25,1673.48 L1408.70,1672.98 L1410.15,1672.47 L1411.60,1671.97 L1413.05,1671.48 L1414.49,1670.98 L1415.94,1670.49 L1417.39,1669.99 L1418.84,1669.51 L1420.29,1669.02 L1421.74,1668.53 L1423.19,1668.05 L1424.64,1667.57 L1426.08,1667.09 L1427.53,1666.61 L1428.98,1666.14 L1430.43,1665.67 L1431.88,1665.20 L1433.33,1664.73 L1434.78,1664.26 L1436.23,1663.80 L1437.68,1663.34 L1439.12,1662.88 L1440.57,1662.42 L1442.02,1661.97 L1443.47,1661.52 L1444.92,1661.06 L1446.37,1660.62 L1447.82,1660.17 L1449.27,1659.72 L1450.72,1659.28 L1452.16,1658.84 L1453.61,1658.40 L1455.06,1657.97 L1456.51,1657.53 L1457.96,1657.10 L1459.41,1656.67 L1460.86,1656.24 L1462.31,1655.82 L1463.76,1655.40 L1465.20,1654.97 L1466.65,1654.55 L1468.10,1654.14 L1469.55,1653.72 L1471.00,1653.31" fill="none" stroke="#000" stroke-width="7.2" stroke-linejoin="round" stroke-linecap="butt"/>
<line x1="892.90" y1="1522.95" x2="901.90" y2="1522.95" stroke="#000" stroke-width="3.5"/>
<line x1="892.90" y1="1568.00" x2="901.90" y2="1568.00" stroke="#000" stroke-width="3.5"/>
<line x1="892.90" y1="1613.05" x2="901.90" y2="1613.05" stroke="#000" stroke-width="3.5"/>
<line x1="892.90" y1="1658.10" x2="901.90" y2="1658.10" stroke="#000" stroke-width="3.5"/>
<line x1="892.90" y1="1703.15" x2="901.90" y2="1703.15" stroke="#000" stroke-width="3.5"/>
<line x1="892.90" y1="1748.20" x2="901.90" y2="1748.20" stroke="#000" stroke-width="3.5"/>
<line x1="892.90" y1="1793.25" x2="901.90" y2="1793.25" stroke="#000" stroke-width="3.5"/>
<line x1="892.90" y1="1838.30" x2="901.90" y2="1838.30" stroke="#000" stroke-width="3.5"/>
<line x1="892.90" y1="1883.35" x2="901.90" y2="1883.35" stroke="#000" stroke-width="3.5"/>
<line x1="892.90" y1="1500.43" x2="897.90" y2="1500.43" stroke="#000" stroke-width="3.5"/>
<line x1="892.90" y1="1545.48" x2="897.90" y2="1545.48" stroke="#000" stroke-width="3.5"/>
<line x1="892.90" y1="1590.53" x2="897.90" y2="1590.53" stroke="#000" stroke-width="3.5"/>
<line x1="892.90" y1="1635.58" x2="897.90" y2="1635.58" stroke="#000" stroke-width="3.5"/>
<line x1="892.90" y1="1680.62" x2="897.90" y2="1680.62" stroke="#000" stroke-width="3.5"/>
<line x1="892.90" y1="1725.68" x2="897.90" y2="1725.68" stroke="#000" stroke-width="3.5"/>
<line x1="892.90" y1="1770.73" x2="897.90" y2="1770.73" stroke="#000" stroke-width="3.5"/>
<line x1="892.90" y1="1815.78" x2="897.90" y2="1815.78" stroke="#000" stroke-width="3.5"/>
<line x1="892.90" y1="1860.83" x2="897.90" y2="1860.83" stroke="#000" stroke-width="3.5"/>
<line x1="892.90" y1="1905.88" x2="897.90" y2="1905.88" stroke="#000" stroke-width="3.5"/>
<line x1="975.49" y1="1928.40" x2="975.49" y2="1919.40" stroke="#000" stroke-width="3.5"/>
<line x1="1058.07" y1="1928.40" x2="1058.07" y2="1919.40" stroke="#000" stroke-width="3.5"/>
<line x1="1140.66" y1="1928.40" x2="1140.66" y2="1919.40" stroke="#000" stroke-width="3.5"/>
<line x1="1223.24" y1="1928.40" x2="1223.24" y2="1919.40" stroke="#000" stroke-width="3.5"/>
<line x1="1305.83" y1="1928.40" x2="1305.83" y2="1919.40" stroke="#000" stroke-width="3.5"/>
<line x1="1388.41" y1="1928.40" x2="1388.41" y2="1919.40" stroke="#000" stroke-width="3.5"/>
<line x1="934.19" y1="1928.40" x2="934.19" y2="1923.40" stroke="#000" stroke-width="3.5"/>
<line x1="1016.78" y1="1928.40" x2="1016.78" y2="1923.40" stroke="#000" stroke-width="3.5"/>
<line x1="1099.36" y1="1928.40" x2="1099.36" y2="1923.40" stroke="#000" stroke-width="3.5"/>
<line x1="1181.95" y1="1928.40" x2="1181.95" y2="1923.40" stroke="#000" stroke-width="3.5"/>
<line x1="1264.54" y1="1928.40" x2="1264.54" y2="1923.40" stroke="#000" stroke-width="3.5"/>
<line x1="1347.12" y1="1928.40" x2="1347.12" y2="1923.40" stroke="#000" stroke-width="3.5"/>
<line x1="1429.71" y1="1928.40" x2="1429.71" y2="1923.40" stroke="#000" stroke-width="3.5"/>
<rect x="892.90" y="1477.90" width="578.10" height="450.50" fill="none" stroke="#000" stroke-width="3.2"/>
<text x="886.00" y="1484.24" font-size="23.30" fill="#000" text-anchor="end" textLength="12.96" lengthAdjust="spacingAndGlyphs">0</text>
<text x="886.00" y="1529.29" font-size="23.30" fill="#000" text-anchor="end" textLength="20.72" lengthAdjust="spacingAndGlyphs">-2</text>
<text x="886.00" y="1574.34" font-size="23.30" fill="#000" text-anchor="end" textLength="20.72" lengthAdjust="spacingAndGlyphs">-4</text>
<text x="886.00" y="1619.39" font-size="23.30" fill="#000" text-anchor="end" textLength="20.72" lengthAdjust="spacingAndGlyphs">-6</text>
<text x="886.00" y="1664.44" font-size="23.30" fill="#000" text-anchor="end" textLength="20.72" lengthAdjust="spacingAndGlyphs">-8</text>
<text x="886.00" y="1709.49" font-size="23.30" fill="#000" text-anchor="end" textLength="33.68" lengthAdjust="spacingAndGlyphs">-10</text>
<text x="886.00" y="1754.54" font-size="23.30" fill="#000" text-anchor="end" textLength="33.68" lengthAdjust="spacingAndGlyphs">-12</text>
<text x="886.00" y="1799.59" font-size="23.30" fill="#000" text-anchor="end" textLength="33.68" lengthAdjust="spacingAndGlyphs">-14</text>
<text x="886.00" y="1844.64" font-size="23.30" fill="#000" text-anchor="end" textLength="33.68" lengthAdjust="spacingAndGlyphs">-16</text>
<text x="886.00" y="1889.69" font-size="23.30" fill="#000" text-anchor="end" textLength="33.68" lengthAdjust="spacingAndGlyphs">-18</text>
<text x="886.00" y="1934.74" font-size="23.30" fill="#000" text-anchor="end" textLength="33.68" lengthAdjust="spacingAndGlyphs">-20</text>
<text x="892.90" y="1954.50" font-size="23.30" fill="#000" text-anchor="middle" textLength="25.92" lengthAdjust="spacingAndGlyphs">26</text>
<text x="975.49" y="1954.50" font-size="23.30" fill="#000" text-anchor="middle" textLength="25.92" lengthAdjust="spacingAndGlyphs">28</text>
<text x="1058.07" y="1954.50" font-size="23.30" fill="#000" text-anchor="middle" textLength="25.92" lengthAdjust="spacingAndGlyphs">30</text>
<text x="1140.66" y="1954.50" font-size="23.30" fill="#000" text-anchor="middle" textLength="25.92" lengthAdjust="spacingAndGlyphs">32</text>
<text x="1223.24" y="1954.50" font-size="23.30" fill="#000" text-anchor="middle" textLength="25.92" lengthAdjust="spacingAndGlyphs">34</text>
<text x="1305.83" y="1954.50" font-size="23.30" fill="#000" text-anchor="middle" textLength="25.92" lengthAdjust="spacingAndGlyphs">36</text>
<text x="1388.41" y="1954.50" font-size="23.30" fill="#000" text-anchor="middle" textLength="25.92" lengthAdjust="spacingAndGlyphs">38</text>
<text x="1471.00" y="1954.50" font-size="23.30" fill="#000" text-anchor="middle" textLength="25.92" lengthAdjust="spacingAndGlyphs">40</text>
<text x="1077.70" y="1997.20" font-size="31.40" fill="#000" textLength="236.28" lengthAdjust="spacingAndGlyphs">Frequency (GHz)</text>
<text x="830.00" y="1854.20" font-size="24.00" fill="#000" textLength="217.20" lengthAdjust="spacingAndGlyphs" transform="rotate(-90 830.00 1854.20)">Reflection Loss (dB)</text>
</g>
<rect x="1575" y="602.30" width="3.4" height="3.4" fill="none" stroke="#BDBDBD" stroke-width="0.9"/>
<rect x="1575" y="650.50" width="3.4" height="3.4" fill="none" stroke="#BDBDBD" stroke-width="0.9"/>
<rect x="1575" y="698.70" width="3.4" height="3.4" fill="none" stroke="#BDBDBD" stroke-width="0.9"/>
<rect x="1575" y="746.90" width="3.4" height="3.4" fill="none" stroke="#BDBDBD" stroke-width="0.9"/>
<rect x="1575" y="795.10" width="3.4" height="3.4" fill="none" stroke="#BDBDBD" stroke-width="0.9"/>
<rect x="1575" y="843.30" width="3.4" height="3.4" fill="none" stroke="#BDBDBD" stroke-width="0.9"/>
<rect x="1575" y="891.50" width="3.4" height="3.4" fill="none" stroke="#BDBDBD" stroke-width="0.9"/>
<line x1="24" y1="703.3" x2="735" y2="703.3" stroke="#EBEBEB" stroke-width="1"/>
<line x1="1531.5" y1="702" x2="1531.5" y2="1295" stroke="#F3F3F3" stroke-width="1"/>
</svg>
</body></html>
